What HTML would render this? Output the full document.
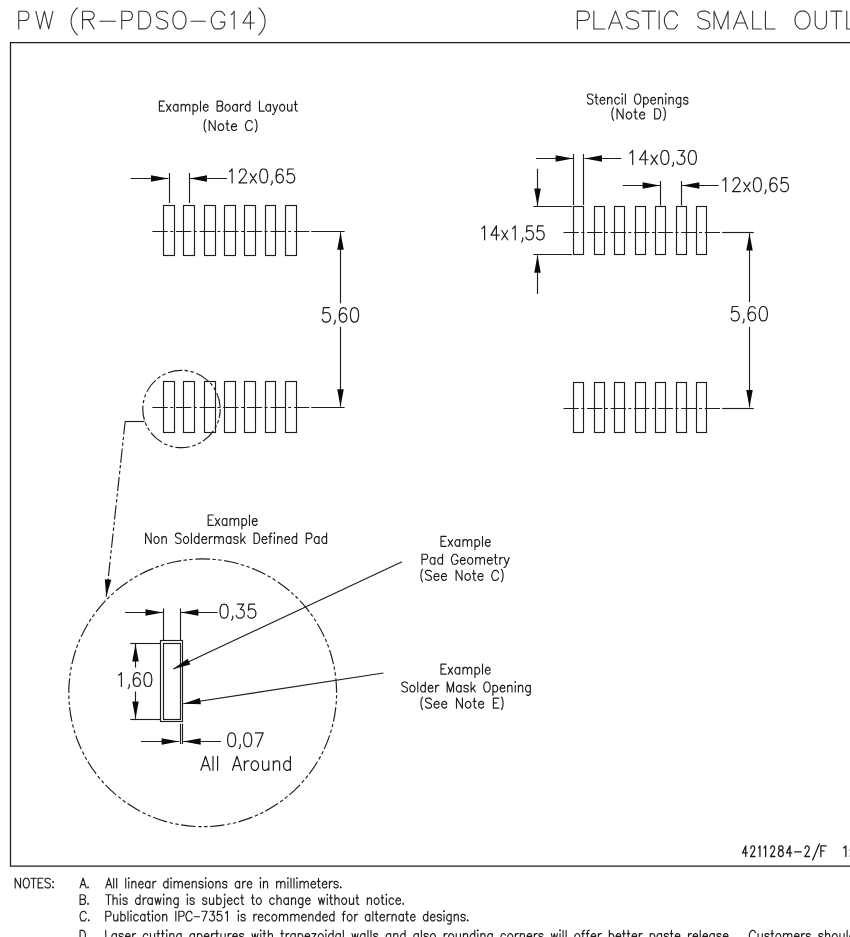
<!DOCTYPE html>
<html><head><meta charset="utf-8"><style>
html,body{margin:0;padding:0;background:#fff;width:850px;height:937px;overflow:hidden;font-family:"Liberation Sans", sans-serif}
svg{display:block}
</style></head><body>
<svg width="850" height="937" viewBox="0 0 850 937">
<rect width="850" height="937" fill="#fff"/>
<path d="M18.75 11.20L18.75 28.90M18.75 11.20L25.24 11.20L27.41 12.04L28.13 12.89L28.85 14.57L28.85 17.10L28.13 18.79L27.41 19.63L25.24 20.47L18.75 20.47M35.85 11.20L40.12 28.90M44.40 11.20L40.12 28.90M44.40 11.20L48.67 28.90M52.95 11.20L48.67 28.90M77.45 7.83L75.65 9.51L73.85 12.04L72.05 15.41L71.15 19.63L71.15 23.00L72.05 27.21L73.85 30.59L75.65 33.11L77.45 34.80M82.55 11.20L82.55 28.90M82.55 11.20L90.01 11.20L92.49 12.04L93.32 12.89L94.15 14.57L94.15 16.26L93.32 17.94L92.49 18.79L90.01 19.63L82.55 19.63M88.35 19.63L94.15 28.90M99.95 21.31L115.35 21.31M121.75 11.20L121.75 28.90M121.75 11.20L128.56 11.20L130.84 12.04L131.59 12.89L132.35 14.57L132.35 17.10L131.59 18.79L130.84 19.63L128.56 20.47L121.75 20.47M138.75 11.20L138.75 28.90M138.75 11.20L144.70 11.20L147.25 12.04L148.95 13.73L149.80 15.41L150.65 17.94L150.65 22.16L149.80 24.69L148.95 26.37L147.25 28.06L144.70 28.90L138.75 28.90M167.65 13.73L166.05 12.04L163.65 11.20L160.45 11.20L158.05 12.04L156.45 13.73L156.45 15.41L157.25 17.10L158.05 17.94L159.65 18.79L164.45 20.47L166.05 21.31L166.85 22.16L167.65 23.84L167.65 26.37L166.05 28.06L163.65 28.90L160.45 28.90L158.05 28.06L156.45 26.37M177.82 11.20L176.20 12.04L174.57 13.73L173.76 15.41L172.95 17.94L172.95 22.16L173.76 24.69L174.57 26.37L176.20 28.06L177.82 28.90L181.07 28.90L182.70 28.06L184.32 26.37L185.14 24.69L185.95 22.16L185.95 17.94L185.14 15.41L184.32 13.73L182.70 12.04L181.07 11.20L177.82 11.20M191.15 21.31L205.35 21.31M224.75 15.41L223.91 13.73L222.24 12.04L220.56 11.20L217.21 11.20L215.54 12.04L213.86 13.73L212.19 16.26L211.35 17.94L211.35 22.16L212.19 24.69L213.03 26.37L213.86 28.06L215.54 28.90L217.21 28.90L220.56 28.90L222.24 28.06L223.91 26.37L224.75 24.69L224.75 22.16M220.56 22.16L224.75 22.16M231.15 14.57L232.35 13.73L234.15 11.20L234.15 28.90M250.42 11.20L242.95 23.00L254.15 23.00M250.42 11.20L250.42 28.90M258.75 7.83L260.55 9.51L262.35 12.04L264.15 15.41L265.05 19.63L265.05 23.00L264.15 27.21L262.35 30.59L260.55 33.11L258.75 34.80" fill="none" stroke="#333" stroke-width="1.1" stroke-linecap="round" stroke-linejoin="round"/>
<path d="M577.35 11.10L577.35 29.00M577.35 11.10L585.00 11.10L587.55 11.95L588.40 12.80L589.25 14.51L589.25 17.07L588.40 18.77L587.55 19.62L585.00 20.48L577.35 20.48M593.85 11.10L593.85 29.00M593.85 29.00L604.75 29.00M615.50 11.10L608.65 29.00M615.50 11.10L622.35 29.00M611.22 23.03L619.78 23.03M638.65 13.66L636.89 11.95L634.26 11.10L630.74 11.10L628.11 11.95L626.35 13.66L626.35 15.36L627.23 17.07L628.11 17.92L629.86 18.77L635.14 20.48L636.89 21.33L637.77 22.18L638.65 23.89L638.65 26.44L636.89 28.15L634.26 29.00L630.74 29.00L628.11 28.15L626.35 26.44M648.70 11.10L648.70 29.00M641.85 11.10L655.55 11.10M659.15 11.10L659.15 29.00M677.45 15.36L676.64 13.66L675.01 11.95L673.39 11.10L670.14 11.10L668.51 11.95L666.89 13.66L665.26 16.21L664.45 17.92L664.45 22.18L665.26 24.74L666.08 26.44L666.89 28.15L668.51 29.00L670.14 29.00L673.39 29.00L675.01 28.15L676.64 26.44L677.45 24.74M709.75 13.66L708.04 11.95L705.46 11.10L702.04 11.10L699.46 11.95L697.75 13.66L697.75 15.36L698.61 17.07L699.46 17.92L701.18 18.77L706.32 20.48L708.04 21.33L708.89 22.18L709.75 23.89L709.75 26.44L708.04 28.15L705.46 29.00L702.04 29.00L699.46 28.15L697.75 26.44M714.05 11.10L714.05 29.00M714.05 11.10L721.05 29.00M728.05 11.10L721.05 29.00M728.05 11.10L728.05 29.00M740.65 11.10L733.45 29.00M740.65 11.10L747.85 29.00M736.15 23.03L745.15 23.03M752.65 11.10L752.65 29.00M752.65 29.00L761.35 29.00M765.45 11.10L765.45 29.00M765.45 29.00L775.05 29.00M800.64 11.10L798.77 11.95L796.91 13.66L795.98 15.36L795.05 17.92L795.05 22.18L795.98 24.74L796.91 26.44L798.77 28.15L800.64 29.00L804.36 29.00L806.23 28.15L808.09 26.44L809.02 24.74L809.95 22.18L809.95 17.92L809.02 15.36L808.09 13.66L806.23 11.95L804.36 11.10L800.64 11.10M815.15 11.10L815.15 23.89L815.96 26.44L817.57 28.15L819.99 29.00L821.61 29.00L824.03 28.15L825.64 26.44L826.45 23.89L826.45 11.10M836.35 11.10L836.35 29.00M830.75 11.10L841.95 11.10M846.75 11.10L846.75 29.00M846.75 29.00L855.45 29.00" fill="none" stroke="#333" stroke-width="1.1" stroke-linecap="round" stroke-linejoin="round"/>
<path d="M 860 42.5 H 10.5 V 866 H 860" fill="none" stroke="#1e1e1e" stroke-width="1.25"/>
<path d="M159.38 101.10L159.38 111.10M159.38 101.10L164.52 101.10M159.38 105.86L162.54 105.86M159.38 111.10L164.52 111.10M166.50 104.43L170.85 111.10M170.85 104.43L166.50 111.10M177.97 104.43L177.97 111.10M177.97 105.86L177.18 104.91L176.38 104.43L175.20 104.43L174.41 104.91L173.62 105.86L173.22 107.29L173.22 108.24L173.62 109.67L174.41 110.62L175.20 111.10L176.38 111.10L177.18 110.62L177.97 109.67M181.13 104.43L181.13 111.10M181.13 106.34L182.32 104.91L183.11 104.43L184.30 104.43L185.09 104.91L185.48 106.34L185.48 111.10M185.48 106.34L186.67 104.91L187.46 104.43L188.65 104.43L189.44 104.91L189.83 106.34L189.83 111.10M193.00 104.43L193.00 114.43M193.00 105.86L193.79 104.91L194.58 104.43L195.77 104.43L196.56 104.91L197.35 105.86L197.74 107.29L197.74 108.24L197.35 109.67L196.56 110.62L195.77 111.10L194.58 111.10L193.79 110.62L193.00 109.67M200.51 101.10L200.51 111.10M203.28 107.29L208.03 107.29L208.03 106.34L207.63 105.39L207.24 104.91L206.45 104.43L205.26 104.43L204.47 104.91L203.68 105.86L203.28 107.29L203.28 108.24L203.68 109.67L204.47 110.62L205.26 111.10L206.45 111.10L207.24 110.62L208.03 109.67M217.13 101.10L217.13 111.10M217.13 101.10L220.69 101.10L221.87 101.58L222.27 102.05L222.66 103.00L222.66 103.96L222.27 104.91L221.87 105.39L220.69 105.86M217.13 105.86L220.69 105.86L221.87 106.34L222.27 106.81L222.66 107.77L222.66 109.20L222.27 110.15L221.87 110.62L220.69 111.10L217.13 111.10M227.02 104.43L226.22 104.91L225.43 105.86L225.04 107.29L225.04 108.24L225.43 109.67L226.22 110.62L227.02 111.10L228.20 111.10L228.99 110.62L229.78 109.67L230.18 108.24L230.18 107.29L229.78 105.86L228.99 104.91L228.20 104.43L227.02 104.43M237.30 104.43L237.30 111.10M237.30 105.86L236.51 104.91L235.72 104.43L234.53 104.43L233.74 104.91L232.95 105.86L232.55 107.29L232.55 108.24L232.95 109.67L233.74 110.62L234.53 111.10L235.72 111.10L236.51 110.62L237.30 109.67M240.46 104.43L240.46 111.10M240.46 107.29L240.86 105.86L241.65 104.91L242.44 104.43L243.63 104.43M249.96 101.10L249.96 111.10M249.96 105.86L249.17 104.91L248.38 104.43L247.19 104.43L246.40 104.91L245.61 105.86L245.21 107.29L245.21 108.24L245.61 109.67L246.40 110.62L247.19 111.10L248.38 111.10L249.17 110.62L249.96 109.67M259.45 101.10L259.45 111.10M259.45 111.10L264.20 111.10M270.53 104.43L270.53 111.10M270.53 105.86L269.74 104.91L268.94 104.43L267.76 104.43L266.97 104.91L266.18 105.86L265.78 107.29L265.78 108.24L266.18 109.67L266.97 110.62L267.76 111.10L268.94 111.10L269.74 110.62L270.53 109.67M272.90 104.43L275.27 111.10M277.65 104.43L275.27 111.10L274.48 113.00L273.69 113.96L272.90 114.43L272.50 114.43M281.60 104.43L280.81 104.91L280.02 105.86L279.62 107.29L279.62 108.24L280.02 109.67L280.81 110.62L281.60 111.10L282.79 111.10L283.58 110.62L284.37 109.67L284.77 108.24L284.77 107.29L284.37 105.86L283.58 104.91L282.79 104.43L281.60 104.43M287.54 104.43L287.54 109.20L287.93 110.62L288.72 111.10L289.91 111.10L290.70 110.62L291.89 109.20M291.89 104.43L291.89 111.10M295.45 101.10L295.45 109.20L295.84 110.62L296.63 111.10L297.43 111.10M294.26 104.43L297.03 104.43" fill="none" stroke="#1e1e1e" stroke-width="1.15" stroke-linecap="round" stroke-linejoin="round"/>
<path d="M205.78 119.55L205.01 120.74L204.42 122.64L204.07 125.74L204.42 128.83L205.01 130.74L205.78 131.93M209.20 120.50L209.20 130.50M209.20 120.50L215.18 130.50M215.18 120.50L215.18 130.50M220.30 123.83L219.45 124.31L218.59 125.26L218.17 126.69L218.17 127.64L218.59 129.07L219.45 130.02L220.30 130.50L221.58 130.50L222.44 130.02L223.29 129.07L223.72 127.64L223.72 126.69L223.29 125.26L222.44 124.31L221.58 123.83L220.30 123.83M227.13 120.50L227.13 128.60L227.56 130.02L228.41 130.50L229.27 130.50M225.85 123.83L228.84 123.83M231.40 126.69L236.53 126.69L236.53 125.74L236.10 124.79L235.67 124.31L234.82 123.83L233.54 123.83L232.69 124.31L231.83 125.26L231.40 126.69L231.40 127.64L231.83 129.07L232.69 130.02L233.54 130.50L234.82 130.50L235.67 130.02L236.53 129.07M252.33 122.88L251.90 121.93L251.05 120.98L250.19 120.50L248.48 120.50L247.63 120.98L246.78 121.93L245.92 123.36L245.50 124.31L245.50 126.69L245.92 128.12L246.35 129.07L246.78 130.02L247.63 130.50L248.48 130.50L250.19 130.50L251.05 130.02L251.90 129.07L252.33 128.12M255.32 119.55L256.09 120.74L256.68 122.64L257.03 125.74L256.68 128.83L256.09 130.74L255.32 131.93" fill="none" stroke="#1e1e1e" stroke-width="1.15" stroke-linecap="round" stroke-linejoin="round"/>
<rect x="163.5" y="205.5" width="11.00" height="50.00" fill="none" stroke="#1e1e1e" stroke-width="1.15"/>
<rect x="183.5" y="205.5" width="11.00" height="50.00" fill="none" stroke="#1e1e1e" stroke-width="1.15"/>
<rect x="204.5" y="205.5" width="11.00" height="50.00" fill="none" stroke="#1e1e1e" stroke-width="1.15"/>
<rect x="224.5" y="205.5" width="11.00" height="50.00" fill="none" stroke="#1e1e1e" stroke-width="1.15"/>
<rect x="244.5" y="205.5" width="11.00" height="50.00" fill="none" stroke="#1e1e1e" stroke-width="1.15"/>
<rect x="265.5" y="205.5" width="10.00" height="50.00" fill="none" stroke="#1e1e1e" stroke-width="1.15"/>
<rect x="285.5" y="205.5" width="11.00" height="50.00" fill="none" stroke="#1e1e1e" stroke-width="1.15"/>
<line x1="152.4" y1="231.5" x2="309.4" y2="231.5" stroke="#1e1e1e" stroke-width="1.15" stroke-dasharray="15.3 2.5 3 2.8" stroke-dashoffset="0"/>
<line x1="311.2" y1="231.5" x2="344.6" y2="231.5" stroke="#1e1e1e" stroke-width="1.15"/>
<rect x="163.5" y="381.5" width="11.00" height="51.00" fill="none" stroke="#1e1e1e" stroke-width="1.15"/>
<rect x="183.5" y="381.5" width="11.00" height="51.00" fill="none" stroke="#1e1e1e" stroke-width="1.15"/>
<rect x="204.5" y="381.5" width="11.00" height="51.00" fill="none" stroke="#1e1e1e" stroke-width="1.15"/>
<rect x="224.5" y="381.5" width="11.00" height="51.00" fill="none" stroke="#1e1e1e" stroke-width="1.15"/>
<rect x="244.5" y="381.5" width="11.00" height="51.00" fill="none" stroke="#1e1e1e" stroke-width="1.15"/>
<rect x="265.5" y="381.5" width="10.00" height="51.00" fill="none" stroke="#1e1e1e" stroke-width="1.15"/>
<rect x="285.5" y="381.5" width="11.00" height="51.00" fill="none" stroke="#1e1e1e" stroke-width="1.15"/>
<line x1="152.4" y1="407.5" x2="309.4" y2="407.5" stroke="#1e1e1e" stroke-width="1.15" stroke-dasharray="15.3 2.5 3 2.8" stroke-dashoffset="0"/>
<line x1="311.2" y1="407.5" x2="344.6" y2="407.5" stroke="#1e1e1e" stroke-width="1.15"/>
<line x1="169.5" y1="173" x2="169.5" y2="203" stroke="#1e1e1e" stroke-width="1.15"/>
<line x1="189.5" y1="173" x2="189.5" y2="203" stroke="#1e1e1e" stroke-width="1.15"/>
<line x1="130.6" y1="178.5" x2="168.4" y2="178.5" stroke="#1e1e1e" stroke-width="1.15"/>
<polygon points="168.40,178.50 151.00,181.75 151.00,175.25" fill="#0a0a0a"/>
<line x1="227" y1="178.5" x2="189.6" y2="178.5" stroke="#1e1e1e" stroke-width="1.15"/>
<polygon points="189.60,178.50 207.00,175.25 207.00,181.75" fill="#0a0a0a"/>
<path d="M229.30 171.65L230.43 170.99L232.12 169.00L232.12 182.90M239.45 172.31L239.45 171.65L240.01 170.32L240.58 169.66L241.70 169.00L243.96 169.00L245.09 169.66L245.65 170.32L246.21 171.65L246.21 172.97L245.65 174.30L244.52 176.28L238.88 182.90L246.78 182.90M250.16 173.63L256.36 182.90M256.36 173.63L250.16 182.90M263.13 169.00L261.44 169.66L260.31 171.65L259.74 174.96L259.74 176.94L260.31 180.25L261.44 182.24L263.13 182.90L264.26 182.90L265.95 182.24L267.07 180.25L267.64 176.94L267.64 174.96L267.07 171.65L265.95 169.66L264.26 169.00L263.13 169.00M272.15 180.91L272.15 182.90L271.58 184.22L271.02 184.89M282.86 170.99L282.30 169.66L280.61 169.00L279.48 169.00L277.79 169.66L276.66 171.65L276.09 174.96L276.09 178.27L276.66 180.91L277.79 182.24L279.48 182.90L280.04 182.90L281.73 182.24L282.86 180.91L283.42 178.93L283.42 178.27L282.86 176.28L281.73 174.96L280.04 174.30L279.48 174.30L277.79 174.96L276.66 176.28L276.09 178.27M293.57 169.00L287.93 169.00L287.37 174.96L287.93 174.30L289.63 173.63L291.32 173.63L293.01 174.30L294.14 175.62L294.70 177.60L294.70 178.93L294.14 180.91L293.01 182.24L291.32 182.90L289.63 182.90L287.93 182.24L287.37 181.58L286.81 180.25" fill="none" stroke="#1e1e1e" stroke-width="1.2" stroke-linecap="round" stroke-linejoin="round"/>
<line x1="340.5" y1="303.3" x2="340.5" y2="232.4" stroke="#1e1e1e" stroke-width="1.15"/>
<polygon points="340.50,232.40 343.75,249.80 337.25,249.80" fill="#0a0a0a"/>
<line x1="340.5" y1="326.8" x2="340.5" y2="406.6" stroke="#1e1e1e" stroke-width="1.15"/>
<polygon points="340.50,406.60 337.25,389.20 343.75,389.20" fill="#0a0a0a"/>
<path d="M329.33 307.70L323.47 307.70L322.89 313.87L323.47 313.19L325.23 312.50L326.98 312.50L328.74 313.19L329.91 314.56L330.50 316.61L330.50 317.99L329.91 320.04L328.74 321.41L326.98 322.10L325.23 322.10L323.47 321.41L322.89 320.73L322.30 319.36M335.18 320.04L335.18 322.10L334.60 323.47L334.01 324.16M346.30 309.76L345.72 308.39L343.96 307.70L342.79 307.70L341.04 308.39L339.86 310.44L339.28 313.87L339.28 317.30L339.86 320.04L341.04 321.41L342.79 322.10L343.38 322.10L345.13 321.41L346.30 320.04L346.89 317.99L346.89 317.30L346.30 315.24L345.13 313.87L343.38 313.19L342.79 313.19L341.04 313.87L339.86 315.24L339.28 317.30M353.92 307.70L352.16 308.39L350.99 310.44L350.40 313.87L350.40 315.93L350.99 319.36L352.16 321.41L353.92 322.10L355.09 322.10L356.84 321.41L358.01 319.36L358.60 315.93L358.60 313.87L358.01 310.44L356.84 308.39L355.09 307.70L353.92 307.70" fill="none" stroke="#1e1e1e" stroke-width="1.2" stroke-linecap="round" stroke-linejoin="round"/>
<circle cx="181.5" cy="409" r="38.7" fill="none" stroke="#1e1e1e" stroke-width="1.15" stroke-dasharray="14.65 2.33 3.43 2.43 3.43 2.73" stroke-dashoffset="5.7"/>
<line x1="144.6" y1="421.5" x2="125.2" y2="421.5" stroke="#1e1e1e" stroke-width="1.15"/>
<line x1="125.2" y1="421.2" x2="106.2" y2="596.8" stroke="#1e1e1e" stroke-width="1.15" stroke-dasharray="14.3 2.3 3.4 2.4 3.4 2.7" stroke-dashoffset="1"/>
<polygon points="106.20,596.80 104.84,579.15 111.30,579.85" fill="#0a0a0a"/>
<path d="M592.92 95.44L592.13 94.48L590.94 94.00L589.35 94.00L588.17 94.48L587.38 95.44L587.38 96.40L587.77 97.37L588.17 97.85L588.96 98.33L591.33 99.29L592.13 99.77L592.52 100.25L592.92 101.21L592.92 102.66L592.13 103.62L590.94 104.10L589.35 104.10L588.17 103.62L587.38 102.66M596.08 94.00L596.08 102.18L596.48 103.62L597.27 104.10L598.06 104.10M594.90 97.37L597.67 97.37M600.04 100.25L604.79 100.25L604.79 99.29L604.40 98.33L604.00 97.85L603.21 97.37L602.02 97.37L601.23 97.85L600.44 98.81L600.04 100.25L600.04 101.21L600.44 102.66L601.23 103.62L602.02 104.10L603.21 104.10L604.00 103.62L604.79 102.66M607.56 97.37L607.56 104.10M607.56 99.29L608.75 97.85L609.54 97.37L610.73 97.37L611.52 97.85L611.92 99.29L611.92 104.10M619.44 98.81L618.65 97.85L617.86 97.37L616.67 97.37L615.88 97.85L615.09 98.81L614.69 100.25L614.69 101.21L615.09 102.66L615.88 103.62L616.67 104.10L617.86 104.10L618.65 103.62L619.44 102.66M621.82 94.00L622.21 94.48L622.61 94.00L622.21 93.52L621.82 94.00M622.21 97.37L622.21 104.10M625.38 94.00L625.38 104.10M636.86 94.00L636.07 94.48L635.27 95.44L634.88 96.40L634.48 97.85L634.48 100.25L634.88 101.70L635.27 102.66L636.07 103.62L636.86 104.10L638.44 104.10L639.23 103.62L640.03 102.66L640.42 101.70L640.82 100.25L640.82 97.85L640.42 96.40L640.03 95.44L639.23 94.48L638.44 94.00L636.86 94.00M643.59 97.37L643.59 107.47M643.59 98.81L644.38 97.85L645.17 97.37L646.36 97.37L647.15 97.85L647.94 98.81L648.34 100.25L648.34 101.21L647.94 102.66L647.15 103.62L646.36 104.10L645.17 104.10L644.38 103.62L643.59 102.66M650.71 100.25L655.46 100.25L655.46 99.29L655.07 98.33L654.67 97.85L653.88 97.37L652.69 97.37L651.90 97.85L651.11 98.81L650.71 100.25L650.71 101.21L651.11 102.66L651.90 103.62L652.69 104.10L653.88 104.10L654.67 103.62L655.46 102.66M658.24 97.37L658.24 104.10M658.24 99.29L659.42 97.85L660.21 97.37L661.40 97.37L662.19 97.85L662.59 99.29L662.59 104.10M665.36 94.00L665.76 94.48L666.15 94.00L665.76 93.52L665.36 94.00M665.76 97.37L665.76 104.10M668.92 97.37L668.92 104.10M668.92 99.29L670.11 97.85L670.90 97.37L672.09 97.37L672.88 97.85L673.28 99.29L673.28 104.10M680.80 97.37L680.80 105.06L680.40 106.50L680.01 106.99L679.22 107.47L678.03 107.47L677.24 106.99M680.80 98.81L680.01 97.85L679.22 97.37L678.03 97.37L677.24 97.85L676.44 98.81L676.05 100.25L676.05 101.21L676.44 102.66L677.24 103.62L678.03 104.10L679.22 104.10L680.01 103.62L680.80 102.66M687.92 98.81L687.53 97.85L686.34 97.37L685.15 97.37L683.97 97.85L683.57 98.81L683.97 99.77L684.76 100.25L686.74 100.73L687.53 101.21L687.92 102.18L687.92 102.66L687.53 103.62L686.34 104.10L685.15 104.10L683.97 103.62L683.57 102.66" fill="none" stroke="#1e1e1e" stroke-width="1.15" stroke-linecap="round" stroke-linejoin="round"/>
<path d="M613.60 107.73L612.83 108.94L612.22 110.89L611.88 114.04L612.22 117.20L612.83 119.14L613.60 120.36M617.06 108.70L617.06 118.90M617.06 108.70L623.10 118.90M623.10 108.70L623.10 118.90M628.29 112.10L627.42 112.59L626.56 113.56L626.13 115.01L626.13 115.99L626.56 117.44L627.42 118.41L628.29 118.90L629.58 118.90L630.44 118.41L631.31 117.44L631.74 115.99L631.74 115.01L631.31 113.56L630.44 112.59L629.58 112.10L628.29 112.10M635.20 108.70L635.20 116.96L635.63 118.41L636.49 118.90L637.35 118.90M633.90 112.10L636.92 112.10M639.51 115.01L644.70 115.01L644.70 114.04L644.26 113.07L643.83 112.59L642.97 112.10L641.67 112.10L640.81 112.59L639.95 113.56L639.51 115.01L639.51 115.99L639.95 117.44L640.81 118.41L641.67 118.90L642.97 118.90L643.83 118.41L644.70 117.44M654.63 108.70L654.63 118.90M654.63 108.70L657.65 108.70L658.95 109.19L659.81 110.16L660.24 111.13L660.67 112.59L660.67 115.01L660.24 116.47L659.81 117.44L658.95 118.41L657.65 118.90L654.63 118.90M663.70 107.73L664.47 108.94L665.08 110.89L665.42 114.04L665.08 117.20L664.47 119.14L663.70 120.36" fill="none" stroke="#1e1e1e" stroke-width="1.15" stroke-linecap="round" stroke-linejoin="round"/>
<rect x="573.5" y="206.5" width="10.00" height="48.00" fill="none" stroke="#1e1e1e" stroke-width="1.15"/>
<rect x="594.5" y="206.5" width="10.00" height="48.00" fill="none" stroke="#1e1e1e" stroke-width="1.15"/>
<rect x="614.5" y="206.5" width="10.00" height="48.00" fill="none" stroke="#1e1e1e" stroke-width="1.15"/>
<rect x="635.5" y="206.5" width="10.00" height="48.00" fill="none" stroke="#1e1e1e" stroke-width="1.15"/>
<rect x="655.5" y="206.5" width="10.00" height="48.00" fill="none" stroke="#1e1e1e" stroke-width="1.15"/>
<rect x="676.5" y="206.5" width="10.00" height="48.00" fill="none" stroke="#1e1e1e" stroke-width="1.15"/>
<rect x="696.5" y="206.5" width="10.00" height="48.00" fill="none" stroke="#1e1e1e" stroke-width="1.15"/>
<line x1="563.5" y1="232.5" x2="720.6" y2="232.5" stroke="#1e1e1e" stroke-width="1.15" stroke-dasharray="15.3 2.5 3 2.75" stroke-dashoffset="0"/>
<line x1="722.1" y1="232.5" x2="753.8" y2="232.5" stroke="#1e1e1e" stroke-width="1.15"/>
<rect x="573.5" y="382.5" width="10.00" height="50.00" fill="none" stroke="#1e1e1e" stroke-width="1.15"/>
<rect x="594.5" y="382.5" width="10.00" height="50.00" fill="none" stroke="#1e1e1e" stroke-width="1.15"/>
<rect x="614.5" y="382.5" width="10.00" height="50.00" fill="none" stroke="#1e1e1e" stroke-width="1.15"/>
<rect x="635.5" y="382.5" width="10.00" height="50.00" fill="none" stroke="#1e1e1e" stroke-width="1.15"/>
<rect x="655.5" y="382.5" width="10.00" height="50.00" fill="none" stroke="#1e1e1e" stroke-width="1.15"/>
<rect x="676.5" y="382.5" width="10.00" height="50.00" fill="none" stroke="#1e1e1e" stroke-width="1.15"/>
<rect x="696.5" y="382.5" width="10.00" height="50.00" fill="none" stroke="#1e1e1e" stroke-width="1.15"/>
<line x1="563.5" y1="408.5" x2="720.6" y2="408.5" stroke="#1e1e1e" stroke-width="1.15" stroke-dasharray="15.3 2.5 3 2.75" stroke-dashoffset="0"/>
<line x1="722.1" y1="408.5" x2="753.8" y2="408.5" stroke="#1e1e1e" stroke-width="1.15"/>
<line x1="573.5" y1="154" x2="573.5" y2="205" stroke="#1e1e1e" stroke-width="1.15"/>
<line x1="583.5" y1="154" x2="583.5" y2="205" stroke="#1e1e1e" stroke-width="1.15"/>
<line x1="536" y1="158.5" x2="573" y2="158.5" stroke="#1e1e1e" stroke-width="1.15"/>
<polygon points="573.00,158.50 555.60,161.75 555.60,155.25" fill="#0a0a0a"/>
<line x1="621.4" y1="158.5" x2="584.6" y2="158.5" stroke="#1e1e1e" stroke-width="1.15"/>
<polygon points="584.60,158.50 602.00,155.25 602.00,161.75" fill="#0a0a0a"/>
<path d="M629.80 153.15L630.95 152.49L632.67 150.50L632.67 164.40M645.30 150.50L639.56 159.77L648.17 159.77M645.30 150.50L645.30 164.40M651.04 155.13L657.36 164.40M657.36 155.13L651.04 164.40M664.25 150.50L662.53 151.16L661.38 153.15L660.80 156.46L660.80 158.44L661.38 161.75L662.53 163.74L664.25 164.40L665.40 164.40L667.12 163.74L668.27 161.75L668.84 158.44L668.84 156.46L668.27 153.15L667.12 151.16L665.40 150.50L664.25 150.50M673.43 162.41L673.43 164.40L672.86 165.72L672.29 166.39M678.03 150.50L684.34 150.50L680.90 155.80L682.62 155.80L683.77 156.46L684.34 157.12L684.92 159.10L684.92 160.43L684.34 162.41L683.19 163.74L681.47 164.40L679.75 164.40L678.03 163.74L677.45 163.08L676.88 161.75M691.81 150.50L690.08 151.16L688.94 153.15L688.36 156.46L688.36 158.44L688.94 161.75L690.08 163.74L691.81 164.40L692.96 164.40L694.68 163.74L695.83 161.75L696.40 158.44L696.40 156.46L695.83 153.15L694.68 151.16L692.96 150.50L691.81 150.50" fill="none" stroke="#1e1e1e" stroke-width="1.2" stroke-linecap="round" stroke-linejoin="round"/>
<line x1="660.5" y1="181" x2="660.5" y2="205.5" stroke="#1e1e1e" stroke-width="1.15"/>
<line x1="681.5" y1="181" x2="681.5" y2="205.5" stroke="#1e1e1e" stroke-width="1.15"/>
<line x1="622.7" y1="185.5" x2="660" y2="185.5" stroke="#1e1e1e" stroke-width="1.15"/>
<polygon points="660.00,185.50 642.60,188.75 642.60,182.25" fill="#0a0a0a"/>
<line x1="718.5" y1="185.5" x2="682" y2="185.5" stroke="#1e1e1e" stroke-width="1.15"/>
<polygon points="682.00,185.50 699.40,182.25 699.40,188.75" fill="#0a0a0a"/>
<path d="M722.90 180.35L724.03 179.69L725.73 177.70L725.73 191.60M733.08 181.01L733.08 180.35L733.64 179.02L734.21 178.36L735.34 177.70L737.60 177.70L738.73 178.36L739.30 179.02L739.87 180.35L739.87 181.67L739.30 183.00L738.17 184.98L732.51 191.60L740.43 191.60M743.82 182.33L750.04 191.60M750.04 182.33L743.82 191.60M756.83 177.70L755.13 178.36L754.00 180.35L753.44 183.66L753.44 185.64L754.00 188.95L755.13 190.94L756.83 191.60L757.96 191.60L759.66 190.94L760.79 188.95L761.36 185.64L761.36 183.66L760.79 180.35L759.66 178.36L757.96 177.70L756.83 177.70M765.88 189.61L765.88 191.60L765.31 192.92L764.75 193.59M776.62 179.69L776.06 178.36L774.36 177.70L773.23 177.70L771.53 178.36L770.40 180.35L769.84 183.66L769.84 186.97L770.40 189.61L771.53 190.94L773.23 191.60L773.80 191.60L775.49 190.94L776.62 189.61L777.19 187.63L777.19 186.97L776.62 184.98L775.49 183.66L773.80 183.00L773.23 183.00L771.53 183.66L770.40 184.98L769.84 186.97M787.37 177.70L781.71 177.70L781.15 183.66L781.71 183.00L783.41 182.33L785.11 182.33L786.80 183.00L787.93 184.32L788.50 186.30L788.50 187.63L787.93 189.61L786.80 190.94L785.11 191.60L783.41 191.60L781.71 190.94L781.15 190.28L780.58 188.95" fill="none" stroke="#1e1e1e" stroke-width="1.2" stroke-linecap="round" stroke-linejoin="round"/>
<line x1="533.2" y1="206.5" x2="572" y2="206.5" stroke="#1e1e1e" stroke-width="1.15"/>
<line x1="533.2" y1="254.5" x2="572" y2="254.5" stroke="#1e1e1e" stroke-width="1.15"/>
<line x1="537.5" y1="168.8" x2="537.5" y2="205.9" stroke="#1e1e1e" stroke-width="1.15"/>
<polygon points="537.50,205.90 534.25,188.50 540.75,188.50" fill="#0a0a0a"/>
<line x1="537.5" y1="293.9" x2="537.5" y2="255.3" stroke="#1e1e1e" stroke-width="1.15"/>
<polygon points="537.50,255.30 540.75,272.70 534.25,272.70" fill="#0a0a0a"/>
<path d="M481.90 228.55L482.97 227.89L484.59 225.90L484.59 239.80M496.40 225.90L491.03 235.17L499.09 235.17M496.40 225.90L496.40 239.80M501.77 230.53L507.68 239.80M507.68 230.53L501.77 239.80M512.51 228.55L513.59 227.89L515.20 225.90L515.20 239.80M522.72 237.81L522.72 239.80L522.18 241.12L521.64 241.79M532.38 225.90L527.01 225.90L526.48 231.86L527.01 231.20L528.62 230.53L530.24 230.53L531.85 231.20L532.92 232.52L533.46 234.50L533.46 235.83L532.92 237.81L531.85 239.14L530.24 239.80L528.62 239.80L527.01 239.14L526.48 238.48L525.94 237.15M543.13 225.90L537.76 225.90L537.22 231.86L537.76 231.20L539.37 230.53L540.98 230.53L542.59 231.20L543.66 232.52L544.20 234.50L544.20 235.83L543.66 237.81L542.59 239.14L540.98 239.80L539.37 239.80L537.76 239.14L537.22 238.48L536.68 237.15" fill="none" stroke="#1e1e1e" stroke-width="1.2" stroke-linecap="round" stroke-linejoin="round"/>
<line x1="749.5" y1="302" x2="749.5" y2="233.2" stroke="#1e1e1e" stroke-width="1.15"/>
<polygon points="749.50,233.20 752.75,250.60 746.25,250.60" fill="#0a0a0a"/>
<line x1="749.5" y1="326.8" x2="749.5" y2="407.3" stroke="#1e1e1e" stroke-width="1.15"/>
<polygon points="749.50,407.30 746.25,389.90 752.75,389.90" fill="#0a0a0a"/>
<path d="M738.13 306.50L732.27 306.50L731.69 312.67L732.27 311.99L734.03 311.30L735.78 311.30L737.54 311.99L738.71 313.36L739.30 315.41L739.30 316.79L738.71 318.84L737.54 320.21L735.78 320.90L734.03 320.90L732.27 320.21L731.69 319.53L731.10 318.16M743.98 318.84L743.98 320.90L743.40 322.27L742.81 322.96M755.10 308.56L754.52 307.19L752.76 306.50L751.59 306.50L749.84 307.19L748.66 309.24L748.08 312.67L748.08 316.10L748.66 318.84L749.84 320.21L751.59 320.90L752.18 320.90L753.93 320.21L755.10 318.84L755.69 316.79L755.69 316.10L755.10 314.04L753.93 312.67L752.18 311.99L751.59 311.99L749.84 312.67L748.66 314.04L748.08 316.10M762.72 306.50L760.96 307.19L759.79 309.24L759.20 312.67L759.20 314.73L759.79 318.16L760.96 320.21L762.72 320.90L763.89 320.90L765.64 320.21L766.81 318.16L767.40 314.73L767.40 312.67L766.81 309.24L765.64 307.19L763.89 306.50L762.72 306.50" fill="none" stroke="#1e1e1e" stroke-width="1.2" stroke-linecap="round" stroke-linejoin="round"/>
<path d="M208.17 515.00L208.17 525.40M208.17 515.00L213.34 515.00M208.17 519.95L211.35 519.95M208.17 525.40L213.34 525.40M215.32 518.47L219.69 525.40M219.69 518.47L215.32 525.40M226.84 518.47L226.84 525.40M226.84 519.95L226.05 518.96L225.25 518.47L224.06 518.47L223.27 518.96L222.47 519.95L222.08 521.44L222.08 522.43L222.47 523.91L223.27 524.90L224.06 525.40L225.25 525.40L226.05 524.90L226.84 523.91M230.02 518.47L230.02 525.40M230.02 520.45L231.21 518.96L232.00 518.47L233.20 518.47L233.99 518.96L234.39 520.45L234.39 525.40M234.39 520.45L235.58 518.96L236.37 518.47L237.56 518.47L238.36 518.96L238.76 520.45L238.76 525.40M241.93 518.47L241.93 528.87M241.93 519.95L242.73 518.96L243.52 518.47L244.71 518.47L245.51 518.96L246.30 519.95L246.70 521.44L246.70 522.43L246.30 523.91L245.51 524.90L244.71 525.40L243.52 525.40L242.73 524.90L241.93 523.91M249.48 515.00L249.48 525.40M252.26 521.44L257.03 521.44L257.03 520.45L256.63 519.46L256.23 518.96L255.44 518.47L254.24 518.47L253.45 518.96L252.66 519.95L252.26 521.44L252.26 522.43L252.66 523.91L253.45 524.90L254.24 525.40L255.44 525.40L256.23 524.90L257.03 523.91" fill="none" stroke="#1e1e1e" stroke-width="1.15" stroke-linecap="round" stroke-linejoin="round"/>
<path d="M145.57 533.10L145.57 543.50M145.57 533.10L151.16 543.50M151.16 533.10L151.16 543.50M155.94 536.57L155.15 537.06L154.35 538.05L153.95 539.54L153.95 540.53L154.35 542.01L155.15 543.00L155.94 543.50L157.14 543.50L157.94 543.00L158.74 542.01L159.13 540.53L159.13 539.54L158.74 538.05L157.94 537.06L157.14 536.57L155.94 536.57M161.93 536.57L161.93 543.50M161.93 538.55L163.12 537.06L163.92 536.57L165.12 536.57L165.91 537.06L166.31 538.55L166.31 543.50M181.07 534.59L180.27 533.60L179.07 533.10L177.48 533.10L176.28 533.60L175.48 534.59L175.48 535.58L175.88 536.57L176.28 537.06L177.08 537.56L179.47 538.55L180.27 539.04L180.67 539.54L181.07 540.53L181.07 542.01L180.27 543.00L179.07 543.50L177.48 543.50L176.28 543.00L175.48 542.01M185.45 536.57L184.66 537.06L183.86 538.05L183.46 539.54L183.46 540.53L183.86 542.01L184.66 543.00L185.45 543.50L186.65 543.50L187.45 543.00L188.25 542.01L188.64 540.53L188.64 539.54L188.25 538.05L187.45 537.06L186.65 536.57L185.45 536.57M191.44 533.10L191.44 543.50M199.01 533.10L199.01 543.50M199.01 538.05L198.22 537.06L197.42 536.57L196.22 536.57L195.42 537.06L194.63 538.05L194.23 539.54L194.23 540.53L194.63 542.01L195.42 543.00L196.22 543.50L197.42 543.50L198.22 543.00L199.01 542.01M201.80 539.54L206.59 539.54L206.59 538.55L206.19 537.56L205.79 537.06L204.99 536.57L203.80 536.57L203.00 537.06L202.20 538.05L201.80 539.54L201.80 540.53L202.20 542.01L203.00 543.00L203.80 543.50L204.99 543.50L205.79 543.00L206.59 542.01M209.38 536.57L209.38 543.50M209.38 539.54L209.78 538.05L210.58 537.06L211.38 536.57L212.57 536.57M214.57 536.57L214.57 543.50M214.57 538.55L215.76 537.06L216.56 536.57L217.76 536.57L218.55 537.06L218.95 538.55L218.95 543.50M218.95 538.55L220.15 537.06L220.95 536.57L222.14 536.57L222.94 537.06L223.34 538.55L223.34 543.50M230.92 536.57L230.92 543.50M230.92 538.05L230.12 537.06L229.32 536.57L228.12 536.57L227.33 537.06L226.53 538.05L226.13 539.54L226.13 540.53L226.53 542.01L227.33 543.00L228.12 543.50L229.32 543.50L230.12 543.00L230.92 542.01M238.09 538.05L237.70 537.06L236.50 536.57L235.30 536.57L234.11 537.06L233.71 538.05L234.11 539.04L234.90 539.54L236.90 540.03L237.70 540.53L238.09 541.52L238.09 542.01L237.70 543.00L236.50 543.50L235.30 543.50L234.11 543.00L233.71 542.01M240.89 533.10L240.89 543.50M244.87 536.57L240.89 541.52M242.48 539.54L245.27 543.50M254.05 533.10L254.05 543.50M254.05 533.10L256.84 533.10L258.03 533.60L258.83 534.59L259.23 535.58L259.63 537.06L259.63 539.54L259.23 541.02L258.83 542.01L258.03 543.00L256.84 543.50L254.05 543.50M262.02 539.54L266.81 539.54L266.81 538.55L266.41 537.56L266.01 537.06L265.21 536.57L264.02 536.57L263.22 537.06L262.42 538.05L262.02 539.54L262.02 540.53L262.42 542.01L263.22 543.00L264.02 543.50L265.21 543.50L266.01 543.00L266.81 542.01M271.99 533.10L271.19 533.10L270.40 533.60L270.00 535.08L270.00 543.50M268.80 536.57L271.59 536.57M273.98 533.10L274.38 533.60L274.78 533.10L274.38 532.60L273.98 533.10M274.38 536.57L274.38 543.50M277.57 536.57L277.57 543.50M277.57 538.55L278.77 537.06L279.57 536.57L280.76 536.57L281.56 537.06L281.96 538.55L281.96 543.50M284.75 539.54L289.54 539.54L289.54 538.55L289.14 537.56L288.74 537.06L287.94 536.57L286.75 536.57L285.95 537.06L285.15 538.05L284.75 539.54L284.75 540.53L285.15 542.01L285.95 543.00L286.75 543.50L287.94 543.50L288.74 543.00L289.54 542.01M296.72 533.10L296.72 543.50M296.72 538.05L295.92 537.06L295.12 536.57L293.92 536.57L293.13 537.06L292.33 538.05L291.93 539.54L291.93 540.53L292.33 542.01L293.13 543.00L293.92 543.50L295.12 543.50L295.92 543.00L296.72 542.01M306.29 533.10L306.29 543.50M306.29 533.10L309.88 533.10L311.07 533.60L311.47 534.09L311.87 535.08L311.87 536.57L311.47 537.56L311.07 538.05L309.88 538.55L306.29 538.55M319.05 536.57L319.05 543.50M319.05 538.05L318.25 537.06L317.45 536.57L316.26 536.57L315.46 537.06L314.66 538.05L314.26 539.54L314.26 540.53L314.66 542.01L315.46 543.00L316.26 543.50L317.45 543.50L318.25 543.00L319.05 542.01M326.62 533.10L326.62 543.50M326.62 538.05L325.83 537.06L325.03 536.57L323.83 536.57L323.04 537.06L322.24 538.05L321.84 539.54L321.84 540.53L322.24 542.01L323.04 543.00L323.83 543.50L325.03 543.50L325.83 543.00L326.62 542.01" fill="none" stroke="#1e1e1e" stroke-width="1.15" stroke-linecap="round" stroke-linejoin="round"/>
<circle cx="202.7" cy="692.8" r="133.9" fill="none" stroke="#1e1e1e" stroke-width="1.15" stroke-dasharray="14.65 2.33 3.43 2.43 3.43 2.73" stroke-dashoffset="14.6"/>
<rect x="160.5" y="640.5" width="22.00" height="81.00" fill="none" stroke="#1e1e1e" stroke-width="1.15"/>
<rect x="163.5" y="643.5" width="17.00" height="76.00" fill="none" stroke="#1e1e1e" stroke-width="1.15"/>
<line x1="163.5" y1="608.5" x2="163.5" y2="640" stroke="#1e1e1e" stroke-width="1.15"/>
<line x1="180.5" y1="608.5" x2="180.5" y2="640" stroke="#1e1e1e" stroke-width="1.15"/>
<line x1="125" y1="612.5" x2="162.9" y2="612.5" stroke="#1e1e1e" stroke-width="1.15"/>
<polygon points="162.90,612.50 145.50,615.75 145.50,609.25" fill="#0a0a0a"/>
<line x1="217.6" y1="612.5" x2="181" y2="612.5" stroke="#1e1e1e" stroke-width="1.15"/>
<polygon points="181.00,612.50 198.40,609.25 198.40,615.75" fill="#0a0a0a"/>
<path d="M223.47 604.20L221.74 604.86L220.58 606.85L220.00 610.16L220.00 612.14L220.58 615.45L221.74 617.44L223.47 618.10L224.63 618.10L226.37 617.44L227.53 615.45L228.11 612.14L228.11 610.16L227.53 606.85L226.37 604.86L224.63 604.20L223.47 604.20M232.74 616.11L232.74 618.10L232.16 619.42L231.58 620.09M237.37 604.20L243.74 604.20L240.27 609.50L242.00 609.50L243.16 610.16L243.74 610.82L244.32 612.80L244.32 614.13L243.74 616.11L242.58 617.44L240.85 618.10L239.11 618.10L237.37 617.44L236.79 616.78L236.21 615.45M254.74 604.20L248.95 604.20L248.37 610.16L248.95 609.50L250.69 608.83L252.43 608.83L254.16 609.50L255.32 610.82L255.90 612.80L255.90 614.13L255.32 616.11L254.16 617.44L252.43 618.10L250.69 618.10L248.95 617.44L248.37 616.78L247.79 615.45" fill="none" stroke="#1e1e1e" stroke-width="1.2" stroke-linecap="round" stroke-linejoin="round"/>
<line x1="130.3" y1="643.5" x2="160" y2="643.5" stroke="#1e1e1e" stroke-width="1.15"/>
<line x1="130.3" y1="719.5" x2="160" y2="719.5" stroke="#1e1e1e" stroke-width="1.15"/>
<line x1="135.5" y1="667.6" x2="135.5" y2="644" stroke="#1e1e1e" stroke-width="1.15"/>
<polygon points="135.50,644.00 138.75,661.40 132.25,661.40" fill="#0a0a0a"/>
<line x1="135.5" y1="691.5" x2="135.5" y2="718.8" stroke="#1e1e1e" stroke-width="1.15"/>
<polygon points="135.50,718.80 132.25,701.40 138.75,701.40" fill="#0a0a0a"/>
<path d="M118.60 675.25L119.73 674.59L121.41 672.60L121.41 686.50M129.29 684.51L129.29 686.50L128.73 687.82L128.17 688.49M139.98 674.59L139.42 673.26L137.73 672.60L136.61 672.60L134.92 673.26L133.79 675.25L133.23 678.56L133.23 681.87L133.79 684.51L134.92 685.84L136.61 686.50L137.17 686.50L138.86 685.84L139.98 684.51L140.55 682.53L140.55 681.87L139.98 679.88L138.86 678.56L137.17 677.90L136.61 677.90L134.92 678.56L133.79 679.88L133.23 681.87M147.30 672.60L145.61 673.26L144.48 675.25L143.92 678.56L143.92 680.54L144.48 683.85L145.61 685.84L147.30 686.50L148.42 686.50L150.11 685.84L151.24 683.85L151.80 680.54L151.80 678.56L151.24 675.25L150.11 673.26L148.42 672.60L147.30 672.60" fill="none" stroke="#1e1e1e" stroke-width="1.2" stroke-linecap="round" stroke-linejoin="round"/>
<line x1="402" y1="561.8" x2="173.2" y2="669" stroke="#1e1e1e" stroke-width="1.15"/>
<polygon points="173.20,669.00 187.58,658.67 190.34,664.56" fill="#0a0a0a"/>
<line x1="383.4" y1="673" x2="183.2" y2="703.8" stroke="#1e1e1e" stroke-width="1.15"/>
<polygon points="183.20,703.80 199.90,697.94 200.89,704.37" fill="#0a0a0a"/>
<line x1="180.5" y1="723.8" x2="180.5" y2="744" stroke="#1e1e1e" stroke-width="1.15"/>
<line x1="182.5" y1="723.8" x2="182.5" y2="744" stroke="#1e1e1e" stroke-width="1.15"/>
<line x1="141" y1="741.5" x2="179" y2="741.5" stroke="#1e1e1e" stroke-width="1.15"/>
<polygon points="179.00,741.50 161.60,744.75 161.60,738.25" fill="#0a0a0a"/>
<line x1="221" y1="741.5" x2="183.3" y2="741.5" stroke="#1e1e1e" stroke-width="1.15"/>
<polygon points="183.30,741.50 200.70,738.25 200.70,744.75" fill="#0a0a0a"/>
<path d="M231.05 732.80L229.32 733.46L228.17 735.45L227.60 738.76L227.60 740.74L228.17 744.05L229.32 746.04L231.05 746.70L232.19 746.70L233.92 746.04L235.06 744.05L235.64 740.74L235.64 738.76L235.06 735.45L233.92 733.46L232.19 732.80L231.05 732.80M240.23 744.71L240.23 746.70L239.66 748.02L239.08 748.69M247.12 732.80L245.40 733.46L244.25 735.45L243.68 738.76L243.68 740.74L244.25 744.05L245.40 746.04L247.12 746.70L248.27 746.70L249.99 746.04L251.14 744.05L251.72 740.74L251.72 738.76L251.14 735.45L249.99 733.46L248.27 732.80L247.12 732.80M263.20 732.80L257.46 746.70M255.16 732.80L263.20 732.80" fill="none" stroke="#1e1e1e" stroke-width="1.2" stroke-linecap="round" stroke-linejoin="round"/>
<path d="M205.51 756.30L200.90 770.30M205.51 756.30L210.11 770.30M202.63 765.63L208.39 765.63M212.99 756.30L212.99 770.30M217.60 756.30L217.60 770.30" fill="none" stroke="#1e1e1e" stroke-width="1.2" stroke-linecap="round" stroke-linejoin="round"/>
<path d="M236.95 756.30L232.40 770.30M236.95 756.30L241.50 770.30M234.11 765.63L239.79 765.63M244.34 760.97L244.34 770.30M244.34 764.97L244.91 762.97L246.05 761.63L247.18 760.97L248.89 760.97M254.01 760.97L252.87 761.63L251.73 762.97L251.16 764.97L251.16 766.30L251.73 768.30L252.87 769.63L254.01 770.30L255.71 770.30L256.85 769.63L257.99 768.30L258.56 766.30L258.56 764.97L257.99 762.97L256.85 761.63L255.71 760.97L254.01 760.97M262.54 760.97L262.54 767.63L263.11 769.63L264.24 770.30L265.95 770.30L267.09 769.63L268.79 767.63M268.79 760.97L268.79 770.30M273.34 760.97L273.34 770.30M273.34 763.63L275.05 761.63L276.18 760.97L277.89 760.97L279.03 761.63L279.60 763.63L279.60 770.30M290.40 756.30L290.40 770.30M290.40 762.97L289.26 761.63L288.13 760.97L286.42 760.97L285.28 761.63L284.15 762.97L283.58 764.97L283.58 766.30L284.15 768.30L285.28 769.63L286.42 770.30L288.13 770.30L289.26 769.63L290.40 768.30" fill="none" stroke="#1e1e1e" stroke-width="1.2" stroke-linecap="round" stroke-linejoin="round"/>
<path d="M440.97 536.30L440.97 546.30M440.97 536.30L446.17 536.30M440.97 541.06L444.17 541.06M440.97 546.30L446.17 546.30M448.17 539.63L452.56 546.30M452.56 539.63L448.17 546.30M459.76 539.63L459.76 546.30M459.76 541.06L458.96 540.11L458.16 539.63L456.96 539.63L456.16 540.11L455.36 541.06L454.96 542.49L454.96 543.44L455.36 544.87L456.16 545.82L456.96 546.30L458.16 546.30L458.96 545.82L459.76 544.87M462.95 539.63L462.95 546.30M462.95 541.54L464.15 540.11L464.95 539.63L466.15 539.63L466.95 540.11L467.35 541.54L467.35 546.30M467.35 541.54L468.55 540.11L469.35 539.63L470.54 539.63L471.34 540.11L471.74 541.54L471.74 546.30M474.94 539.63L474.94 549.63M474.94 541.06L475.74 540.11L476.54 539.63L477.74 539.63L478.54 540.11L479.34 541.06L479.74 542.49L479.74 543.44L479.34 544.87L478.54 545.82L477.74 546.30L476.54 546.30L475.74 545.82L474.94 544.87M482.53 536.30L482.53 546.30M485.33 542.49L490.12 542.49L490.12 541.54L489.73 540.59L489.33 540.11L488.53 539.63L487.33 539.63L486.53 540.11L485.73 541.06L485.33 542.49L485.33 543.44L485.73 544.87L486.53 545.82L487.33 546.30L488.53 546.30L489.33 545.82L490.12 544.87" fill="none" stroke="#1e1e1e" stroke-width="1.15" stroke-linecap="round" stroke-linejoin="round"/>
<path d="M421.97 554.20L421.97 564.20M421.97 554.20L425.61 554.20L426.82 554.68L427.22 555.15L427.62 556.10L427.62 557.53L427.22 558.49L426.82 558.96L425.61 559.44L421.97 559.44M434.89 557.53L434.89 564.20M434.89 558.96L434.08 558.01L433.27 557.53L432.06 557.53L431.25 558.01L430.45 558.96L430.04 560.39L430.04 561.34L430.45 562.77L431.25 563.72L432.06 564.20L433.27 564.20L434.08 563.72L434.89 562.77M442.55 554.20L442.55 564.20M442.55 558.96L441.75 558.01L440.94 557.53L439.73 557.53L438.92 558.01L438.11 558.96L437.71 560.39L437.71 561.34L438.11 562.77L438.92 563.72L439.73 564.20L440.94 564.20L441.75 563.72L442.55 562.77M457.88 556.58L457.48 555.63L456.67 554.68L455.87 554.20L454.25 554.20L453.45 554.68L452.64 555.63L451.83 557.06L451.43 558.01L451.43 560.39L451.83 561.82L452.24 562.77L452.64 563.72L453.45 564.20L454.25 564.20L455.87 564.20L456.67 563.72L457.48 562.77L457.88 561.82L457.88 560.39M455.87 560.39L457.88 560.39M460.30 560.39L465.15 560.39L465.15 559.44L464.74 558.49L464.34 558.01L463.53 557.53L462.32 557.53L461.52 558.01L460.71 558.96L460.30 560.39L460.30 561.34L460.71 562.77L461.52 563.72L462.32 564.20L463.53 564.20L464.34 563.72L465.15 562.77M469.58 557.53L468.78 558.01L467.97 558.96L467.57 560.39L467.57 561.34L467.97 562.77L468.78 563.72L469.58 564.20L470.80 564.20L471.60 563.72L472.41 562.77L472.81 561.34L472.81 560.39L472.41 558.96L471.60 558.01L470.80 557.53L469.58 557.53M475.64 557.53L475.64 564.20M475.64 559.44L476.85 558.01L477.65 557.53L478.86 557.53L479.67 558.01L480.07 559.44L480.07 564.20M480.07 559.44L481.29 558.01L482.09 557.53L483.30 557.53L484.11 558.01L484.51 559.44L484.51 564.20M487.34 560.39L492.18 560.39L492.18 559.44L491.78 558.49L491.37 558.01L490.57 557.53L489.35 557.53L488.55 558.01L487.74 558.96L487.34 560.39L487.34 561.34L487.74 562.77L488.55 563.72L489.35 564.20L490.57 564.20L491.37 563.72L492.18 562.77M495.41 554.20L495.41 562.30L495.81 563.72L496.62 564.20L497.42 564.20M494.20 557.53L497.02 557.53M499.85 557.53L499.85 564.20M499.85 560.39L500.25 558.96L501.06 558.01L501.86 557.53L503.07 557.53M504.28 557.53L506.70 564.20M509.12 557.53L506.70 564.20L505.90 566.10L505.09 567.06L504.28 567.53L503.88 567.53" fill="none" stroke="#1e1e1e" stroke-width="1.15" stroke-linecap="round" stroke-linejoin="round"/>
<path d="M422.55 569.35L421.80 570.54L421.21 572.44L420.88 575.54L421.21 578.63L421.80 580.54L422.55 581.73M431.37 571.73L430.53 570.78L429.27 570.30L427.59 570.30L426.33 570.78L425.49 571.73L425.49 572.68L425.91 573.63L426.33 574.11L427.17 574.59L429.69 575.54L430.53 576.01L430.95 576.49L431.37 577.44L431.37 578.87L430.53 579.82L429.27 580.30L427.59 580.30L426.33 579.82L425.49 578.87M433.88 576.49L438.92 576.49L438.92 575.54L438.50 574.59L438.08 574.11L437.24 573.63L435.98 573.63L435.14 574.11L434.30 575.06L433.88 576.49L433.88 577.44L434.30 578.87L435.14 579.82L435.98 580.30L437.24 580.30L438.08 579.82L438.92 578.87M441.44 576.49L446.47 576.49L446.47 575.54L446.05 574.59L445.63 574.11L444.79 573.63L443.54 573.63L442.70 574.11L441.86 575.06L441.44 576.49L441.44 577.44L441.86 578.87L442.70 579.82L443.54 580.30L444.79 580.30L445.63 579.82L446.47 578.87M456.12 570.30L456.12 580.30M456.12 570.30L462.00 580.30M462.00 570.30L462.00 580.30M467.04 573.63L466.20 574.11L465.36 575.06L464.94 576.49L464.94 577.44L465.36 578.87L466.20 579.82L467.04 580.30L468.29 580.30L469.13 579.82L469.97 578.87L470.39 577.44L470.39 576.49L469.97 575.06L469.13 574.11L468.29 573.63L467.04 573.63M473.75 570.30L473.75 578.40L474.17 579.82L475.01 580.30L475.85 580.30M472.49 573.63L475.43 573.63M477.95 576.49L482.98 576.49L482.98 575.54L482.56 574.59L482.14 574.11L481.30 573.63L480.04 573.63L479.21 574.11L478.37 575.06L477.95 576.49L477.95 577.44L478.37 578.87L479.21 579.82L480.04 580.30L481.30 580.30L482.14 579.82L482.98 578.87M498.51 572.68L498.09 571.73L497.25 570.78L496.41 570.30L494.73 570.30L493.89 570.78L493.05 571.73L492.21 573.16L491.79 574.11L491.79 576.49L492.21 577.92L492.63 578.87L493.05 579.82L493.89 580.30L494.73 580.30L496.41 580.30L497.25 579.82L498.09 578.87L498.51 577.92M501.45 569.35L502.20 570.54L502.79 572.44L503.12 575.54L502.79 578.63L502.20 580.54L501.45 581.73" fill="none" stroke="#1e1e1e" stroke-width="1.15" stroke-linecap="round" stroke-linejoin="round"/>
<path d="M440.97 664.10L440.97 674.10M440.97 664.10L446.17 664.10M440.97 668.86L444.17 668.86M440.97 674.10L446.17 674.10M448.17 667.43L452.56 674.10M452.56 667.43L448.17 674.10M459.76 667.43L459.76 674.10M459.76 668.86L458.96 667.91L458.16 667.43L456.96 667.43L456.16 667.91L455.36 668.86L454.96 670.29L454.96 671.24L455.36 672.67L456.16 673.62L456.96 674.10L458.16 674.10L458.96 673.62L459.76 672.67M462.95 667.43L462.95 674.10M462.95 669.34L464.15 667.91L464.95 667.43L466.15 667.43L466.95 667.91L467.35 669.34L467.35 674.10M467.35 669.34L468.55 667.91L469.35 667.43L470.54 667.43L471.34 667.91L471.74 669.34L471.74 674.10M474.94 667.43L474.94 677.43M474.94 668.86L475.74 667.91L476.54 667.43L477.74 667.43L478.54 667.91L479.34 668.86L479.74 670.29L479.74 671.24L479.34 672.67L478.54 673.62L477.74 674.10L476.54 674.10L475.74 673.62L474.94 672.67M482.53 664.10L482.53 674.10M485.33 670.29L490.12 670.29L490.12 669.34L489.73 668.39L489.33 667.91L488.53 667.43L487.33 667.43L486.53 667.91L485.73 668.86L485.33 670.29L485.33 671.24L485.73 672.67L486.53 673.62L487.33 674.10L488.53 674.10L489.33 673.62L490.12 672.67" fill="none" stroke="#1e1e1e" stroke-width="1.15" stroke-linecap="round" stroke-linejoin="round"/>
<path d="M407.44 683.43L406.65 682.48L405.45 682.00L403.86 682.00L402.67 682.48L401.88 683.43L401.88 684.38L402.27 685.33L402.67 685.81L403.47 686.29L405.85 687.24L406.65 687.71L407.04 688.19L407.44 689.14L407.44 690.57L406.65 691.52L405.45 692.00L403.86 692.00L402.67 691.52L401.88 690.57M411.82 685.33L411.02 685.81L410.23 686.76L409.83 688.19L409.83 689.14L410.23 690.57L411.02 691.52L411.82 692.00L413.01 692.00L413.81 691.52L414.60 690.57L415.00 689.14L415.00 688.19L414.60 686.76L413.81 685.81L413.01 685.33L411.82 685.33M417.78 682.00L417.78 692.00M425.34 682.00L425.34 692.00M425.34 686.76L424.54 685.81L423.75 685.33L422.55 685.33L421.76 685.81L420.96 686.76L420.57 688.19L420.57 689.14L420.96 690.57L421.76 691.52L422.55 692.00L423.75 692.00L424.54 691.52L425.34 690.57M428.12 688.19L432.89 688.19L432.89 687.24L432.50 686.29L432.10 685.81L431.30 685.33L430.11 685.33L429.31 685.81L428.52 686.76L428.12 688.19L428.12 689.14L428.52 690.57L429.31 691.52L430.11 692.00L431.30 692.00L432.10 691.52L432.89 690.57M435.68 685.33L435.68 692.00M435.68 688.19L436.08 686.76L436.87 685.81L437.67 685.33L438.86 685.33M447.21 682.00L447.21 692.00M447.21 682.00L450.39 692.00M453.57 682.00L450.39 692.00M453.57 682.00L453.57 692.00M461.13 685.33L461.13 692.00M461.13 686.76L460.33 685.81L459.54 685.33L458.35 685.33L457.55 685.81L456.75 686.76L456.36 688.19L456.36 689.14L456.75 690.57L457.55 691.52L458.35 692.00L459.54 692.00L460.33 691.52L461.13 690.57M468.29 686.76L467.89 685.81L466.70 685.33L465.50 685.33L464.31 685.81L463.91 686.76L464.31 687.71L465.11 688.19L467.09 688.67L467.89 689.14L468.29 690.10L468.29 690.57L467.89 691.52L466.70 692.00L465.50 692.00L464.31 691.52L463.91 690.57M471.07 682.00L471.07 692.00M475.05 685.33L471.07 690.10M472.66 688.19L475.45 692.00M486.18 682.00L485.39 682.48L484.59 683.43L484.19 684.38L483.80 685.81L483.80 688.19L484.19 689.62L484.59 690.57L485.39 691.52L486.18 692.00L487.77 692.00L488.57 691.52L489.36 690.57L489.76 689.62L490.16 688.19L490.16 685.81L489.76 684.38L489.36 683.43L488.57 682.48L487.77 682.00L486.18 682.00M492.94 685.33L492.94 695.33M492.94 686.76L493.74 685.81L494.53 685.33L495.73 685.33L496.52 685.81L497.32 686.76L497.72 688.19L497.72 689.14L497.32 690.57L496.52 691.52L495.73 692.00L494.53 692.00L493.74 691.52L492.94 690.57M500.10 688.19L504.87 688.19L504.87 687.24L504.48 686.29L504.08 685.81L503.28 685.33L502.09 685.33L501.29 685.81L500.50 686.76L500.10 688.19L500.10 689.14L500.50 690.57L501.29 691.52L502.09 692.00L503.28 692.00L504.08 691.52L504.87 690.57M507.66 685.33L507.66 692.00M507.66 687.24L508.85 685.81L509.65 685.33L510.84 685.33L511.63 685.81L512.03 687.24L512.03 692.00M514.82 682.00L515.21 682.48L515.61 682.00L515.21 681.52L514.82 682.00M515.21 685.33L515.21 692.00M518.39 685.33L518.39 692.00M518.39 687.24L519.59 685.81L520.38 685.33L521.58 685.33L522.37 685.81L522.77 687.24L522.77 692.00M530.32 685.33L530.32 692.95L529.93 694.38L529.53 694.86L528.73 695.33L527.54 695.33L526.75 694.86M530.32 686.76L529.53 685.81L528.73 685.33L527.54 685.33L526.75 685.81L525.95 686.76L525.55 688.19L525.55 689.14L525.95 690.57L526.75 691.52L527.54 692.00L528.73 692.00L529.53 691.52L530.32 690.57" fill="none" stroke="#1e1e1e" stroke-width="1.15" stroke-linecap="round" stroke-linejoin="round"/>
<path d="M422.57 697.15L421.81 698.34L421.21 700.24L420.88 703.34L421.21 706.43L421.81 708.34L422.57 709.53M431.47 699.53L430.63 698.58L429.35 698.10L427.66 698.10L426.39 698.58L425.54 699.53L425.54 700.48L425.96 701.43L426.39 701.91L427.23 702.39L429.78 703.34L430.63 703.81L431.05 704.29L431.47 705.24L431.47 706.67L430.63 707.62L429.35 708.10L427.66 708.10L426.39 707.62L425.54 706.67M434.02 704.29L439.11 704.29L439.11 703.34L438.68 702.39L438.26 701.91L437.41 701.43L436.14 701.43L435.29 701.91L434.44 702.86L434.02 704.29L434.02 705.24L434.44 706.67L435.29 707.62L436.14 708.10L437.41 708.10L438.26 707.62L439.11 706.67M441.65 704.29L446.74 704.29L446.74 703.34L446.31 702.39L445.89 701.91L445.04 701.43L443.77 701.43L442.92 701.91L442.07 702.86L441.65 704.29L441.65 705.24L442.07 706.67L442.92 707.62L443.77 708.10L445.04 708.10L445.89 707.62L446.74 706.67M456.49 698.10L456.49 708.10M456.49 698.10L462.42 708.10M462.42 698.10L462.42 708.10M467.51 701.43L466.66 701.91L465.82 702.86L465.39 704.29L465.39 705.24L465.82 706.67L466.66 707.62L467.51 708.10L468.78 708.10L469.63 707.62L470.48 706.67L470.90 705.24L470.90 704.29L470.48 702.86L469.63 701.91L468.78 701.43L467.51 701.43M474.30 698.10L474.30 706.20L474.72 707.62L475.57 708.10L476.41 708.10M473.02 701.43L475.99 701.43M478.53 704.29L483.62 704.29L483.62 703.34L483.20 702.39L482.77 701.91L481.93 701.43L480.65 701.43L479.81 701.91L478.96 702.86L478.53 704.29L478.53 705.24L478.96 706.67L479.81 707.62L480.65 708.10L481.93 708.10L482.77 707.62L483.62 706.67M493.37 698.10L493.37 708.10M493.37 698.10L498.89 698.10M493.37 702.86L496.77 702.86M493.37 708.10L498.89 708.10M501.43 697.15L502.19 698.34L502.79 700.24L503.12 703.34L502.79 706.43L502.19 708.34L501.43 709.53" fill="none" stroke="#1e1e1e" stroke-width="1.15" stroke-linecap="round" stroke-linejoin="round"/>
<path d="M745.75 845.90L742.55 852.97L747.35 852.97M745.75 845.90L745.75 856.50M750.86 848.42L750.86 847.92L751.18 846.91L751.49 846.40L752.12 845.90L753.38 845.90L754.01 846.40L754.32 846.91L754.64 847.92L754.64 848.93L754.32 849.94L753.69 851.45L750.55 856.50L754.95 856.50M758.55 847.92L759.11 847.41L759.95 845.90L759.95 856.50M763.95 847.92L764.63 847.41L765.65 845.90L765.65 856.50M770.76 848.42L770.76 847.92L771.08 846.91L771.39 846.40L772.02 845.90L773.28 845.90L773.91 846.40L774.22 846.91L774.54 847.92L774.54 848.93L774.22 849.94L773.59 851.45L770.45 856.50L774.85 856.50M780.16 845.90L779.14 846.40L778.79 847.41L778.79 848.42L779.14 849.43L779.82 849.94L781.19 850.44L782.22 850.95L782.91 851.96L783.25 852.97L783.25 854.48L782.91 855.49L782.56 856.00L781.54 856.50L780.16 856.50L779.14 856.00L778.79 855.49L778.45 854.48L778.45 852.97L778.79 851.96L779.48 850.95L780.51 850.44L781.88 849.94L782.56 849.43L782.91 848.42L782.91 847.41L782.56 846.40L781.54 845.90L780.16 845.90M789.98 845.90L786.45 852.97L791.75 852.97M789.98 845.90L789.98 856.50M794.65 851.96L801.35 851.96M805.09 848.42L805.09 847.92L805.42 846.91L805.76 846.40L806.43 845.90L807.77 845.90L808.44 846.40L808.78 846.91L809.11 847.92L809.11 848.93L808.78 849.94L808.11 851.45L804.75 856.50L809.45 856.50M819.35 843.88L812.65 860.03M820.85 845.90L820.85 856.50M820.85 845.90L826.15 845.90M820.85 850.95L824.11 850.95M843.65 847.92L844.53 847.41L845.85 845.90L845.85 856.50M850.65 849.43L850.15 849.94L850.65 850.44L851.15 849.94L850.65 849.43M850.65 855.49L850.15 856.00L850.65 856.50L851.15 856.00L850.65 855.49" fill="none" stroke="#1e1e1e" stroke-width="1.3" stroke-linecap="round" stroke-linejoin="round"/>
<path d="M15.17 878.20L15.17 887.90M15.17 878.20L20.53 887.90M20.53 878.20L20.53 887.90M25.50 878.20L24.74 878.66L23.97 879.59L23.59 880.51L23.21 881.90L23.21 884.20L23.59 885.59L23.97 886.51L24.74 887.44L25.50 887.90L27.03 887.90L27.80 887.44L28.56 886.51L28.95 885.59L29.33 884.20L29.33 881.90L28.95 880.51L28.56 879.59L27.80 878.66L27.03 878.20L25.50 878.20M33.53 878.20L33.53 887.90M30.86 878.20L36.21 878.20M38.12 878.20L38.12 887.90M38.12 878.20L43.10 878.20M38.12 882.82L41.19 882.82M38.12 887.90L43.10 887.90M50.36 879.59L49.60 878.66L48.45 878.20L46.92 878.20L45.78 878.66L45.01 879.59L45.01 880.51L45.39 881.43L45.78 881.90L46.54 882.36L48.83 883.28L49.60 883.74L49.98 884.20L50.36 885.13L50.36 886.51L49.60 887.44L48.45 887.90L46.92 887.90L45.78 887.44L45.01 886.51M53.04 881.43L52.66 881.90L53.04 882.36L53.42 881.90L53.04 881.43M53.04 886.98L52.66 887.44L53.04 887.90L53.42 887.44L53.04 886.98" fill="none" stroke="#1e1e1e" stroke-width="1.15" stroke-linecap="round" stroke-linejoin="round"/>
<path d="M108.79 878.20L105.78 887.90M108.79 878.20L111.81 887.90M106.91 884.67L110.68 884.67M113.70 878.20L113.70 887.90M116.71 878.20L116.71 887.90M125.76 878.20L125.76 887.90M128.40 878.20L128.78 878.66L129.16 878.20L128.78 877.74L128.40 878.20M128.78 881.43L128.78 887.90M131.80 881.43L131.80 887.90M131.80 883.28L132.93 881.90L133.69 881.43L134.82 881.43L135.57 881.90L135.95 883.28L135.95 887.90M138.59 884.20L143.11 884.20L143.11 883.28L142.74 882.36L142.36 881.90L141.61 881.43L140.47 881.43L139.72 881.90L138.97 882.82L138.59 884.20L138.59 885.13L138.97 886.51L139.72 887.44L140.47 887.90L141.61 887.90L142.36 887.44L143.11 886.51M149.90 881.43L149.90 887.90M149.90 882.82L149.15 881.90L148.39 881.43L147.26 881.43L146.51 881.90L145.75 882.82L145.38 884.20L145.38 885.13L145.75 886.51L146.51 887.44L147.26 887.90L148.39 887.90L149.15 887.44L149.90 886.51M152.92 881.43L152.92 887.90M152.92 884.20L153.30 882.82L154.05 881.90L154.81 881.43L155.94 881.43M168.01 878.20L168.01 887.90M168.01 882.82L167.25 881.90L166.50 881.43L165.37 881.43L164.61 881.90L163.86 882.82L163.48 884.20L163.48 885.13L163.86 886.51L164.61 887.44L165.37 887.90L166.50 887.90L167.25 887.44L168.01 886.51M170.65 878.20L171.02 878.66L171.40 878.20L171.02 877.74L170.65 878.20M171.02 881.43L171.02 887.90M174.04 881.43L174.04 887.90M174.04 883.28L175.17 881.90L175.93 881.43L177.06 881.43L177.81 881.90L178.19 883.28L178.19 887.90M178.19 883.28L179.32 881.90L180.08 881.43L181.21 881.43L181.96 881.90L182.34 883.28L182.34 887.90M184.98 884.20L189.51 884.20L189.51 883.28L189.13 882.36L188.75 881.90L188.00 881.43L186.87 881.43L186.11 881.90L185.36 882.82L184.98 884.20L184.98 885.13L185.36 886.51L186.11 887.44L186.87 887.90L188.00 887.90L188.75 887.44L189.51 886.51M192.15 881.43L192.15 887.90M192.15 883.28L193.28 881.90L194.03 881.43L195.16 881.43L195.92 881.90L196.29 883.28L196.29 887.90M203.08 882.82L202.71 881.90L201.57 881.43L200.44 881.43L199.31 881.90L198.93 882.82L199.31 883.74L200.07 884.20L201.95 884.67L202.71 885.13L203.08 886.05L203.08 886.51L202.71 887.44L201.57 887.90L200.44 887.90L199.31 887.44L198.93 886.51M205.35 878.20L205.72 878.66L206.10 878.20L205.72 877.74L205.35 878.20M205.72 881.43L205.72 887.90M210.25 881.43L209.49 881.90L208.74 882.82L208.36 884.20L208.36 885.13L208.74 886.51L209.49 887.44L210.25 887.90L211.38 887.90L212.14 887.44L212.89 886.51L213.27 885.13L213.27 884.20L212.89 882.82L212.14 881.90L211.38 881.43L210.25 881.43M215.91 881.43L215.91 887.90M215.91 883.28L217.04 881.90L217.79 881.43L218.92 881.43L219.68 881.90L220.06 883.28L220.06 887.90M226.84 882.82L226.47 881.90L225.34 881.43L224.20 881.43L223.07 881.90L222.70 882.82L223.07 883.74L223.83 884.20L225.71 884.67L226.47 885.13L226.84 886.05L226.84 886.51L226.47 887.44L225.34 887.90L224.20 887.90L223.07 887.44L222.70 886.51M239.67 881.43L239.67 887.90M239.67 882.82L238.91 881.90L238.16 881.43L237.03 881.43L236.27 881.90L235.52 882.82L235.14 884.20L235.14 885.13L235.52 886.51L236.27 887.44L237.03 887.90L238.16 887.90L238.91 887.44L239.67 886.51M242.69 881.43L242.69 887.90M242.69 884.20L243.06 882.82L243.82 881.90L244.57 881.43L245.70 881.43M247.21 884.20L251.74 884.20L251.74 883.28L251.36 882.36L250.98 881.90L250.23 881.43L249.10 881.43L248.34 881.90L247.59 882.82L247.21 884.20L247.21 885.13L247.59 886.51L248.34 887.44L249.10 887.90L250.23 887.90L250.98 887.44L251.74 886.51M260.03 878.20L260.41 878.66L260.79 878.20L260.41 877.74L260.03 878.20M260.41 881.43L260.41 887.90M263.43 881.43L263.43 887.90M263.43 883.28L264.56 881.90L265.32 881.43L266.45 881.43L267.20 881.90L267.58 883.28L267.58 887.90M276.63 881.43L276.63 887.90M276.63 883.28L277.76 881.90L278.52 881.43L279.65 881.43L280.40 881.90L280.78 883.28L280.78 887.90M280.78 883.28L281.91 881.90L282.66 881.43L283.80 881.43L284.55 881.90L284.93 883.28L284.93 887.90M287.57 878.20L287.94 878.66L288.32 878.20L287.94 877.74L287.57 878.20M287.94 881.43L287.94 887.90M290.96 878.20L290.96 887.90M293.98 878.20L293.98 887.90M296.62 878.20L297.00 878.66L297.37 878.20L297.00 877.74L296.62 878.20M297.00 881.43L297.00 887.90M300.01 881.43L300.01 887.90M300.01 883.28L301.15 881.90L301.90 881.43L303.03 881.43L303.79 881.90L304.16 883.28L304.16 887.90M304.16 883.28L305.29 881.90L306.05 881.43L307.18 881.43L307.93 881.90L308.31 883.28L308.31 887.90M310.95 884.20L315.48 884.20L315.48 883.28L315.10 882.36L314.72 881.90L313.97 881.43L312.84 881.43L312.08 881.90L311.33 882.82L310.95 884.20L310.95 885.13L311.33 886.51L312.08 887.44L312.84 887.90L313.97 887.90L314.72 887.44L315.48 886.51M318.50 878.20L318.50 886.05L318.87 887.44L319.63 887.90L320.38 887.90M317.36 881.43L320.00 881.43M322.27 884.20L326.79 884.20L326.79 883.28L326.42 882.36L326.04 881.90L325.28 881.43L324.15 881.43L323.40 881.90L322.64 882.82L322.27 884.20L322.27 885.13L322.64 886.51L323.40 887.44L324.15 887.90L325.28 887.90L326.04 887.44L326.79 886.51M329.43 881.43L329.43 887.90M329.43 884.20L329.81 882.82L330.56 881.90L331.32 881.43L332.45 881.43M338.11 882.82L337.73 881.90L336.60 881.43L335.47 881.43L334.34 881.90L333.96 882.82L334.34 883.74L335.09 884.20L336.98 884.67L337.73 885.13L338.11 886.05L338.11 886.51L337.73 887.44L336.60 887.90L335.47 887.90L334.34 887.44L333.96 886.51M340.75 886.98L340.37 887.44L340.75 887.90L341.12 887.44L340.75 886.98" fill="none" stroke="#1e1e1e" stroke-width="1.15" stroke-linecap="round" stroke-linejoin="round"/>
<path d="M108.44 894.70L108.44 904.40M105.78 894.70L111.11 894.70M113.02 894.70L113.02 904.40M113.02 899.78L114.16 898.40L114.92 897.93L116.07 897.93L116.83 898.40L117.21 899.78L117.21 904.40M119.88 894.70L120.26 895.16L120.64 894.70L120.26 894.24L119.88 894.70M120.26 897.93L120.26 904.40M127.12 899.32L126.74 898.40L125.60 897.93L124.46 897.93L123.31 898.40L122.93 899.32L123.31 900.24L124.07 900.70L125.98 901.17L126.74 901.63L127.12 902.55L127.12 903.01L126.74 903.94L125.60 904.40L124.46 904.40L123.31 903.94L122.93 903.01M140.09 894.70L140.09 904.40M140.09 899.32L139.32 898.40L138.56 897.93L137.42 897.93L136.66 898.40L135.89 899.32L135.51 900.70L135.51 901.63L135.89 903.01L136.66 903.94L137.42 904.40L138.56 904.40L139.32 903.94L140.09 903.01M143.14 897.93L143.14 904.40M143.14 900.70L143.52 899.32L144.28 898.40L145.04 897.93L146.19 897.93M152.29 897.93L152.29 904.40M152.29 899.32L151.52 898.40L150.76 897.93L149.62 897.93L148.86 898.40L148.09 899.32L147.71 900.70L147.71 901.63L148.09 903.01L148.86 903.94L149.62 904.40L150.76 904.40L151.52 903.94L152.29 903.01M154.96 897.93L156.48 904.40M158.01 897.93L156.48 904.40M158.01 897.93L159.53 904.40M161.06 897.93L159.53 904.40M163.34 894.70L163.72 895.16L164.11 894.70L163.72 894.24L163.34 894.70M163.72 897.93L163.72 904.40M166.77 897.93L166.77 904.40M166.77 899.78L167.92 898.40L168.68 897.93L169.82 897.93L170.59 898.40L170.97 899.78L170.97 904.40M178.21 897.93L178.21 905.32L177.83 906.71L177.45 907.17L176.69 907.63L175.54 907.63L174.78 907.17M178.21 899.32L177.45 898.40L176.69 897.93L175.54 897.93L174.78 898.40L174.02 899.32L173.64 900.70L173.64 901.63L174.02 903.01L174.78 903.94L175.54 904.40L176.69 904.40L177.45 903.94L178.21 903.01M186.98 894.70L187.36 895.16L187.74 894.70L187.36 894.24L186.98 894.70M187.36 897.93L187.36 904.40M194.22 899.32L193.84 898.40L192.70 897.93L191.55 897.93L190.41 898.40L190.03 899.32L190.41 900.24L191.17 900.70L193.08 901.17L193.84 901.63L194.22 902.55L194.22 903.01L193.84 903.94L192.70 904.40L191.55 904.40L190.41 903.94L190.03 903.01M206.80 899.32L206.42 898.40L205.28 897.93L204.14 897.93L202.99 898.40L202.61 899.32L202.99 900.24L203.75 900.70L205.66 901.17L206.42 901.63L206.80 902.55L206.80 903.01L206.42 903.94L205.28 904.40L204.14 904.40L202.99 903.94L202.61 903.01M209.47 897.93L209.47 902.55L209.85 903.94L210.62 904.40L211.76 904.40L212.52 903.94L213.67 902.55M213.67 897.93L213.67 904.40M216.72 894.70L216.72 904.40M216.72 899.32L217.48 898.40L218.24 897.93L219.39 897.93L220.15 898.40L220.91 899.32L221.29 900.70L221.29 901.63L220.91 903.01L220.15 903.94L219.39 904.40L218.24 904.40L217.48 903.94L216.72 903.01M224.34 894.70L224.72 895.16L225.10 894.70L224.72 894.24L224.34 894.70M224.72 897.93L224.72 905.79L224.34 907.17L223.58 907.63L222.82 907.63M227.39 900.70L231.97 900.70L231.97 899.78L231.58 898.86L231.20 898.40L230.44 897.93L229.30 897.93L228.53 898.40L227.77 899.32L227.39 900.70L227.39 901.63L227.77 903.01L228.53 903.94L229.30 904.40L230.44 904.40L231.20 903.94L231.97 903.01M238.83 899.32L238.07 898.40L237.30 897.93L236.16 897.93L235.40 898.40L234.63 899.32L234.25 900.70L234.25 901.63L234.63 903.01L235.40 903.94L236.16 904.40L237.30 904.40L238.07 903.94L238.83 903.01M241.88 894.70L241.88 902.55L242.26 903.94L243.02 904.40L243.78 904.40M240.73 897.93L243.40 897.93M252.55 894.70L252.55 902.55L252.93 903.94L253.70 904.40L254.46 904.40M251.41 897.93L254.08 897.93M258.27 897.93L257.51 898.40L256.75 899.32L256.37 900.70L256.37 901.63L256.75 903.01L257.51 903.94L258.27 904.40L259.42 904.40L260.18 903.94L260.94 903.01L261.32 901.63L261.32 900.70L260.94 899.32L260.18 898.40L259.42 897.93L258.27 897.93M274.28 899.32L273.52 898.40L272.76 897.93L271.62 897.93L270.85 898.40L270.09 899.32L269.71 900.70L269.71 901.63L270.09 903.01L270.85 903.94L271.62 904.40L272.76 904.40L273.52 903.94L274.28 903.01M276.95 894.70L276.95 904.40M276.95 899.78L278.10 898.40L278.86 897.93L280.00 897.93L280.77 898.40L281.15 899.78L281.15 904.40M288.39 897.93L288.39 904.40M288.39 899.32L287.63 898.40L286.86 897.93L285.72 897.93L284.96 898.40L284.20 899.32L283.82 900.70L283.82 901.63L284.20 903.01L284.96 903.94L285.72 904.40L286.86 904.40L287.63 903.94L288.39 903.01M291.44 897.93L291.44 904.40M291.44 899.78L292.58 898.40L293.35 897.93L294.49 897.93L295.25 898.40L295.63 899.78L295.63 904.40M302.88 897.93L302.88 905.32L302.50 906.71L302.11 907.17L301.35 907.63L300.21 907.63L299.45 907.17M302.88 899.32L302.11 898.40L301.35 897.93L300.21 897.93L299.45 898.40L298.68 899.32L298.30 900.70L298.30 901.63L298.68 903.01L299.45 903.94L300.21 904.40L301.35 904.40L302.11 903.94L302.88 903.01M305.55 900.70L310.12 900.70L310.12 899.78L309.74 898.86L309.36 898.40L308.60 897.93L307.45 897.93L306.69 898.40L305.93 899.32L305.55 900.70L305.55 901.63L305.93 903.01L306.69 903.94L307.45 904.40L308.60 904.40L309.36 903.94L310.12 903.01M318.51 897.93L320.03 904.40M321.56 897.93L320.03 904.40M321.56 897.93L323.08 904.40M324.61 897.93L323.08 904.40M326.90 894.70L327.28 895.16L327.66 894.70L327.28 894.24L326.90 894.70M327.28 897.93L327.28 904.40M330.71 894.70L330.71 902.55L331.09 903.94L331.85 904.40L332.61 904.40M329.56 897.93L332.23 897.93M334.90 894.70L334.90 904.40M334.90 899.78L336.05 898.40L336.81 897.93L337.95 897.93L338.71 898.40L339.10 899.78L339.10 904.40M343.67 897.93L342.91 898.40L342.15 899.32L341.76 900.70L341.76 901.63L342.15 903.01L342.91 903.94L343.67 904.40L344.81 904.40L345.58 903.94L346.34 903.01L346.72 901.63L346.72 900.70L346.34 899.32L345.58 898.40L344.81 897.93L343.67 897.93M349.39 897.93L349.39 902.55L349.77 903.94L350.53 904.40L351.68 904.40L352.44 903.94L353.58 902.55M353.58 897.93L353.58 904.40M357.01 894.70L357.01 902.55L357.39 903.94L358.16 904.40L358.92 904.40M355.87 897.93L358.54 897.93M367.31 897.93L367.31 904.40M367.31 899.78L368.45 898.40L369.21 897.93L370.36 897.93L371.12 898.40L371.50 899.78L371.50 904.40M376.08 897.93L375.31 898.40L374.55 899.32L374.17 900.70L374.17 901.63L374.55 903.01L375.31 903.94L376.08 904.40L377.22 904.40L377.98 903.94L378.74 903.01L379.13 901.63L379.13 900.70L378.74 899.32L377.98 898.40L377.22 897.93L376.08 897.93M382.18 894.70L382.18 902.55L382.56 903.94L383.32 904.40L384.08 904.40M381.03 897.93L383.70 897.93M385.99 894.70L386.37 895.16L386.75 894.70L386.37 894.24L385.99 894.70M386.37 897.93L386.37 904.40M393.61 899.32L392.85 898.40L392.09 897.93L390.94 897.93L390.18 898.40L389.42 899.32L389.04 900.70L389.04 901.63L389.42 903.01L390.18 903.94L390.94 904.40L392.09 904.40L392.85 903.94L393.61 903.01M395.90 900.70L400.48 900.70L400.48 899.78L400.09 898.86L399.71 898.40L398.95 897.93L397.81 897.93L397.04 898.40L396.28 899.32L395.90 900.70L395.90 901.63L396.28 903.01L397.04 903.94L397.81 904.40L398.95 904.40L399.71 903.94L400.48 903.01M403.14 903.48L402.76 903.94L403.14 904.40L403.53 903.94L403.14 903.48" fill="none" stroke="#1e1e1e" stroke-width="1.15" stroke-linecap="round" stroke-linejoin="round"/>
<path d="M105.78 911.20L105.78 920.90M105.78 911.20L109.16 911.20L110.29 911.66L110.67 912.12L111.05 913.05L111.05 914.43L110.67 915.36L110.29 915.82L109.16 916.28L105.78 916.28M113.68 914.43L113.68 919.05L114.06 920.44L114.81 920.90L115.94 920.90L116.70 920.44L117.83 919.05M117.83 914.43L117.83 920.90M120.84 911.20L120.84 920.90M120.84 915.82L121.59 914.90L122.35 914.43L123.48 914.43L124.23 914.90L124.98 915.82L125.36 917.20L125.36 918.13L124.98 919.51L124.23 920.44L123.48 920.90L122.35 920.90L121.59 920.44L120.84 919.51M128.00 911.20L128.00 920.90M130.63 911.20L131.01 911.66L131.39 911.20L131.01 910.74L130.63 911.20M131.01 914.43L131.01 920.90M138.17 915.82L137.41 914.90L136.66 914.43L135.53 914.43L134.78 914.90L134.02 915.82L133.65 917.20L133.65 918.13L134.02 919.51L134.78 920.44L135.53 920.90L136.66 920.90L137.41 920.44L138.17 919.51M144.95 914.43L144.95 920.90M144.95 915.82L144.19 914.90L143.44 914.43L142.31 914.43L141.56 914.90L140.80 915.82L140.43 917.20L140.43 918.13L140.80 919.51L141.56 920.44L142.31 920.90L143.44 920.90L144.19 920.44L144.95 919.51M148.34 911.20L148.34 919.05L148.71 920.44L149.47 920.90L150.22 920.90M147.21 914.43L149.84 914.43M152.10 911.20L152.48 911.66L152.86 911.20L152.48 910.74L152.10 911.20M152.48 914.43L152.48 920.90M157.00 914.43L156.25 914.90L155.49 915.82L155.12 917.20L155.12 918.13L155.49 919.51L156.25 920.44L157.00 920.90L158.13 920.90L158.88 920.44L159.64 919.51L160.01 918.13L160.01 917.20L159.64 915.82L158.88 914.90L158.13 914.43L157.00 914.43M162.65 914.43L162.65 920.90M162.65 916.28L163.78 914.90L164.53 914.43L165.66 914.43L166.42 914.90L166.79 916.28L166.79 920.90M175.83 911.20L175.83 920.90M178.85 911.20L178.85 920.90M178.85 911.20L182.24 911.20L183.37 911.66L183.74 912.12L184.12 913.05L184.12 914.43L183.74 915.36L183.37 915.82L182.24 916.28L178.85 916.28M192.03 913.51L191.65 912.59L190.90 911.66L190.15 911.20L188.64 911.20L187.89 911.66L187.13 912.59L186.38 913.97L186.00 914.90L186.00 917.20L186.38 918.59L186.76 919.51L187.13 920.44L187.89 920.90L188.64 920.90L190.15 920.90L190.90 920.44L191.65 919.51L192.03 918.59M194.29 916.74L199.56 916.74M207.10 911.20L203.33 920.90M201.82 911.20L207.10 911.20M210.11 911.20L214.25 911.20L211.99 914.90L213.12 914.90L213.88 915.36L214.25 915.82L214.63 917.20L214.63 918.13L214.25 919.51L213.50 920.44L212.37 920.90L211.24 920.90L210.11 920.44L209.73 919.98L209.36 919.05M221.41 911.20L217.64 911.20L217.27 915.36L217.64 914.90L218.77 914.43L219.90 914.43L221.03 914.90L221.79 915.82L222.16 917.20L222.16 918.13L221.79 919.51L221.03 920.44L219.90 920.90L218.77 920.90L217.64 920.44L217.27 919.98L216.89 919.05M225.55 913.05L226.31 912.59L227.44 911.20L227.44 920.90M237.98 911.20L238.36 911.66L238.74 911.20L238.36 910.74L237.98 911.20M238.36 914.43L238.36 920.90M245.14 915.82L244.76 914.90L243.63 914.43L242.50 914.43L241.37 914.90L241.00 915.82L241.37 916.74L242.13 917.20L244.01 917.67L244.76 918.13L245.14 919.05L245.14 919.51L244.76 920.44L243.63 920.90L242.50 920.90L241.37 920.44L241.00 919.51M253.80 914.43L253.80 920.90M253.80 917.20L254.18 915.82L254.93 914.90L255.69 914.43L256.82 914.43M258.32 917.20L262.84 917.20L262.84 916.28L262.47 915.36L262.09 914.90L261.34 914.43L260.21 914.43L259.45 914.90L258.70 915.82L258.32 917.20L258.32 918.13L258.70 919.51L259.45 920.44L260.21 920.90L261.34 920.90L262.09 920.44L262.84 919.51M269.62 915.82L268.87 914.90L268.12 914.43L266.99 914.43L266.23 914.90L265.48 915.82L265.10 917.20L265.10 918.13L265.48 919.51L266.23 920.44L266.99 920.90L268.12 920.90L268.87 920.44L269.62 919.51M273.77 914.43L273.01 914.90L272.26 915.82L271.88 917.20L271.88 918.13L272.26 919.51L273.01 920.44L273.77 920.90L274.90 920.90L275.65 920.44L276.40 919.51L276.78 918.13L276.78 917.20L276.40 915.82L275.65 914.90L274.90 914.43L273.77 914.43M279.42 914.43L279.42 920.90M279.42 916.28L280.55 914.90L281.30 914.43L282.43 914.43L283.18 914.90L283.56 916.28L283.56 920.90M283.56 916.28L284.69 914.90L285.44 914.43L286.57 914.43L287.33 914.90L287.70 916.28L287.70 920.90M290.72 914.43L290.72 920.90M290.72 916.28L291.85 914.90L292.60 914.43L293.73 914.43L294.48 914.90L294.86 916.28L294.86 920.90M294.86 916.28L295.99 914.90L296.74 914.43L297.87 914.43L298.63 914.90L299.00 916.28L299.00 920.90M301.64 917.20L306.16 917.20L306.16 916.28L305.78 915.36L305.41 914.90L304.65 914.43L303.52 914.43L302.77 914.90L302.02 915.82L301.64 917.20L301.64 918.13L302.02 919.51L302.77 920.44L303.52 920.90L304.65 920.90L305.41 920.44L306.16 919.51M308.80 914.43L308.80 920.90M308.80 916.28L309.93 914.90L310.68 914.43L311.81 914.43L312.56 914.90L312.94 916.28L312.94 920.90M320.10 911.20L320.10 920.90M320.10 915.82L319.34 914.90L318.59 914.43L317.46 914.43L316.71 914.90L315.95 915.82L315.58 917.20L315.58 918.13L315.95 919.51L316.71 920.44L317.46 920.90L318.59 920.90L319.34 920.44L320.10 919.51M322.73 917.20L327.25 917.20L327.25 916.28L326.88 915.36L326.50 914.90L325.75 914.43L324.62 914.43L323.86 914.90L323.11 915.82L322.73 917.20L322.73 918.13L323.11 919.51L323.86 920.44L324.62 920.90L325.75 920.90L326.50 920.44L327.25 919.51M334.03 911.20L334.03 920.90M334.03 915.82L333.28 914.90L332.53 914.43L331.40 914.43L330.64 914.90L329.89 915.82L329.51 917.20L329.51 918.13L329.89 919.51L330.64 920.44L331.40 920.90L332.53 920.90L333.28 920.44L334.03 919.51M345.33 911.20L344.58 911.20L343.83 911.66L343.45 913.05L343.45 920.90M342.32 914.43L344.96 914.43M349.10 914.43L348.35 914.90L347.59 915.82L347.22 917.20L347.22 918.13L347.59 919.51L348.35 920.44L349.10 920.90L350.23 920.90L350.98 920.44L351.74 919.51L352.11 918.13L352.11 917.20L351.74 915.82L350.98 914.90L350.23 914.43L349.10 914.43M354.75 914.43L354.75 920.90M354.75 917.20L355.13 915.82L355.88 914.90L356.63 914.43L357.76 914.43M369.82 914.43L369.82 920.90M369.82 915.82L369.06 914.90L368.31 914.43L367.18 914.43L366.43 914.90L365.67 915.82L365.30 917.20L365.30 918.13L365.67 919.51L366.43 920.44L367.18 920.90L368.31 920.90L369.06 920.44L369.82 919.51M372.83 911.20L372.83 920.90M376.22 911.20L376.22 919.05L376.60 920.44L377.35 920.90L378.10 920.90M375.09 914.43L377.73 914.43M379.99 917.20L384.51 917.20L384.51 916.28L384.13 915.36L383.75 914.90L383.00 914.43L381.87 914.43L381.12 914.90L380.36 915.82L379.99 917.20L379.99 918.13L380.36 919.51L381.12 920.44L381.87 920.90L383.00 920.90L383.75 920.44L384.51 919.51M387.14 914.43L387.14 920.90M387.14 917.20L387.52 915.82L388.27 914.90L389.03 914.43L390.16 914.43M392.04 914.43L392.04 920.90M392.04 916.28L393.17 914.90L393.92 914.43L395.05 914.43L395.81 914.90L396.18 916.28L396.18 920.90M403.34 914.43L403.34 920.90M403.34 915.82L402.59 914.90L401.83 914.43L400.70 914.43L399.95 914.90L399.20 915.82L398.82 917.20L398.82 918.13L399.20 919.51L399.95 920.44L400.70 920.90L401.83 920.90L402.59 920.44L403.34 919.51M406.73 911.20L406.73 919.05L407.11 920.44L407.86 920.90L408.61 920.90M405.60 914.43L408.24 914.43M410.50 917.20L415.02 917.20L415.02 916.28L414.64 915.36L414.26 914.90L413.51 914.43L412.38 914.43L411.63 914.90L410.87 915.82L410.50 917.20L410.50 918.13L410.87 919.51L411.63 920.44L412.38 920.90L413.51 920.90L414.26 920.44L415.02 919.51M427.82 911.20L427.82 920.90M427.82 915.82L427.07 914.90L426.32 914.43L425.19 914.43L424.43 914.90L423.68 915.82L423.30 917.20L423.30 918.13L423.68 919.51L424.43 920.44L425.19 920.90L426.32 920.90L427.07 920.44L427.82 919.51M430.46 917.20L434.98 917.20L434.98 916.28L434.60 915.36L434.23 914.90L433.47 914.43L432.34 914.43L431.59 914.90L430.84 915.82L430.46 917.20L430.46 918.13L430.84 919.51L431.59 920.44L432.34 920.90L433.47 920.90L434.23 920.44L434.98 919.51M441.38 915.82L441.01 914.90L439.88 914.43L438.75 914.43L437.62 914.90L437.24 915.82L437.62 916.74L438.37 917.20L440.25 917.67L441.01 918.13L441.38 919.05L441.38 919.51L441.01 920.44L439.88 920.90L438.75 920.90L437.62 920.44L437.24 919.51M443.64 911.20L444.02 911.66L444.40 911.20L444.02 910.74L443.64 911.20M444.02 914.43L444.02 920.90M451.18 914.43L451.18 921.82L450.80 923.21L450.42 923.67L449.67 924.13L448.54 924.13L447.79 923.67M451.18 915.82L450.42 914.90L449.67 914.43L448.54 914.43L447.79 914.90L447.03 915.82L446.66 917.20L446.66 918.13L447.03 919.51L447.79 920.44L448.54 920.90L449.67 920.90L450.42 920.44L451.18 919.51M454.19 914.43L454.19 920.90M454.19 916.28L455.32 914.90L456.07 914.43L457.20 914.43L457.96 914.90L458.33 916.28L458.33 920.90M465.11 915.82L464.74 914.90L463.61 914.43L462.48 914.43L461.35 914.90L460.97 915.82L461.35 916.74L462.10 917.20L463.98 917.67L464.74 918.13L465.11 919.05L465.11 919.51L464.74 920.44L463.61 920.90L462.48 920.90L461.35 920.44L460.97 919.51M467.75 919.98L467.37 920.44L467.75 920.90L468.12 920.44L467.75 919.98" fill="none" stroke="#1e1e1e" stroke-width="1.15" stroke-linecap="round" stroke-linejoin="round"/>
<path d="M105.78 930.40L105.78 940.10M105.78 940.10L110.32 940.10M116.38 933.63L116.38 940.10M116.38 935.02L115.63 934.10L114.87 933.63L113.73 933.63L112.97 934.10L112.22 935.02L111.84 936.40L111.84 937.33L112.22 938.71L112.97 939.64L113.73 940.10L114.87 940.10L115.63 939.64L116.38 938.71M123.20 935.02L122.82 934.10L121.69 933.63L120.55 933.63L119.41 934.10L119.04 935.02L119.41 935.94L120.17 936.40L122.07 936.87L122.82 937.33L123.20 938.25L123.20 938.71L122.82 939.64L121.69 940.10L120.55 940.10L119.41 939.64L119.04 938.71M125.48 936.40L130.02 936.40L130.02 935.48L129.64 934.56L129.27 934.10L128.51 933.63L127.37 933.63L126.61 934.10L125.86 935.02L125.48 936.40L125.48 937.33L125.86 938.71L126.61 939.64L127.37 940.10L128.51 940.10L129.27 939.64L130.02 938.71M132.68 933.63L132.68 940.10M132.68 936.40L133.05 935.02L133.81 934.10L134.57 933.63L135.71 933.63M147.83 935.02L147.07 934.10L146.32 933.63L145.18 933.63L144.42 934.10L143.66 935.02L143.28 936.40L143.28 937.33L143.66 938.71L144.42 939.64L145.18 940.10L146.32 940.10L147.07 939.64L147.83 938.71M150.48 933.63L150.48 938.25L150.86 939.64L151.62 940.10L152.76 940.10L153.51 939.64L154.65 938.25M154.65 933.63L154.65 940.10M158.06 930.40L158.06 938.25L158.44 939.64L159.20 940.10L159.95 940.10M156.92 933.63L159.58 933.63M162.61 930.40L162.61 938.25L162.99 939.64L163.74 940.10L164.50 940.10M161.47 933.63L164.12 933.63M166.40 930.40L166.77 930.86L167.15 930.40L166.77 929.94L166.40 930.40M166.77 933.63L166.77 940.10M169.81 933.63L169.81 940.10M169.81 935.48L170.94 934.10L171.70 933.63L172.84 933.63L173.59 934.10L173.97 935.48L173.97 940.10M181.17 933.63L181.17 941.02L180.79 942.41L180.41 942.87L179.66 943.33L178.52 943.33L177.76 942.87M181.17 935.02L180.41 934.10L179.66 933.63L178.52 933.63L177.76 934.10L177.00 935.02L176.63 936.40L176.63 937.33L177.00 938.71L177.76 939.64L178.52 940.10L179.66 940.10L180.41 939.64L181.17 938.71M194.43 933.63L194.43 940.10M194.43 935.02L193.67 934.10L192.92 933.63L191.78 933.63L191.02 934.10L190.26 935.02L189.89 936.40L189.89 937.33L190.26 938.71L191.02 939.64L191.78 940.10L192.92 940.10L193.67 939.64L194.43 938.71M197.46 933.63L197.46 943.33M197.46 935.02L198.22 934.10L198.98 933.63L200.12 933.63L200.87 934.10L201.63 935.02L202.01 936.40L202.01 937.33L201.63 938.71L200.87 939.64L200.12 940.10L198.98 940.10L198.22 939.64L197.46 938.71M204.28 936.40L208.83 936.40L208.83 935.48L208.45 934.56L208.07 934.10L207.31 933.63L206.18 933.63L205.42 934.10L204.66 935.02L204.28 936.40L204.28 937.33L204.66 938.71L205.42 939.64L206.18 940.10L207.31 940.10L208.07 939.64L208.83 938.71M211.48 933.63L211.48 940.10M211.48 936.40L211.86 935.02L212.62 934.10L213.38 933.63L214.51 933.63M216.79 930.40L216.79 938.25L217.17 939.64L217.92 940.10L218.68 940.10M215.65 933.63L218.30 933.63M220.95 933.63L220.95 938.25L221.33 939.64L222.09 940.10L223.23 940.10L223.99 939.64L225.12 938.25M225.12 933.63L225.12 940.10M228.15 933.63L228.15 940.10M228.15 936.40L228.53 935.02L229.29 934.10L230.05 933.63L231.18 933.63M232.70 936.40L237.25 936.40L237.25 935.48L236.87 934.56L236.49 934.10L235.73 933.63L234.59 933.63L233.84 934.10L233.08 935.02L232.70 936.40L232.70 937.33L233.08 938.71L233.84 939.64L234.59 940.10L235.73 940.10L236.49 939.64L237.25 938.71M243.69 935.02L243.31 934.10L242.17 933.63L241.03 933.63L239.90 934.10L239.52 935.02L239.90 935.94L240.66 936.40L242.55 936.87L243.31 937.33L243.69 938.25L243.69 938.71L243.31 939.64L242.17 940.10L241.03 940.10L239.90 939.64L239.52 938.71M252.02 933.63L253.54 940.10M255.05 933.63L253.54 940.10M255.05 933.63L256.57 940.10M258.08 933.63L256.57 940.10M260.36 930.40L260.74 930.86L261.12 930.40L260.74 929.94L260.36 930.40M260.74 933.63L260.74 940.10M264.15 930.40L264.15 938.25L264.53 939.64L265.28 940.10L266.04 940.10M263.01 933.63L265.66 933.63M268.31 930.40L268.31 940.10M268.31 935.48L269.45 934.10L270.21 933.63L271.35 933.63L272.10 934.10L272.48 935.48L272.48 940.10M281.95 930.40L281.95 938.25L282.33 939.64L283.09 940.10L283.85 940.10M280.82 933.63L283.47 933.63M286.12 933.63L286.12 940.10M286.12 936.40L286.50 935.02L287.26 934.10L288.02 933.63L289.15 933.63M295.21 933.63L295.21 940.10M295.21 935.02L294.46 934.10L293.70 933.63L292.56 933.63L291.80 934.10L291.05 935.02L290.67 936.40L290.67 937.33L291.05 938.71L291.80 939.64L292.56 940.10L293.70 940.10L294.46 939.64L295.21 938.71M298.25 933.63L298.25 943.33M298.25 935.02L299.00 934.10L299.76 933.63L300.90 933.63L301.66 934.10L302.41 935.02L302.79 936.40L302.79 937.33L302.41 938.71L301.66 939.64L300.90 940.10L299.76 940.10L299.00 939.64L298.25 938.71M305.07 936.40L309.61 936.40L309.61 935.48L309.23 934.56L308.85 934.10L308.10 933.63L306.96 933.63L306.20 934.10L305.44 935.02L305.07 936.40L305.07 937.33L305.44 938.71L306.20 939.64L306.96 940.10L308.10 940.10L308.85 939.64L309.61 938.71M316.05 933.63L311.89 940.10M311.89 933.63L316.05 933.63M311.89 940.10L316.05 940.10M320.22 933.63L319.46 934.10L318.70 935.02L318.33 936.40L318.33 937.33L318.70 938.71L319.46 939.64L320.22 940.10L321.36 940.10L322.11 939.64L322.87 938.71L323.25 937.33L323.25 936.40L322.87 935.02L322.11 934.10L321.36 933.63L320.22 933.63M325.52 930.40L325.90 930.86L326.28 930.40L325.90 929.94L325.52 930.40M325.90 933.63L325.90 940.10M333.10 930.40L333.10 940.10M333.10 935.02L332.34 934.10L331.59 933.63L330.45 933.63L329.69 934.10L328.93 935.02L328.56 936.40L328.56 937.33L328.93 938.71L329.69 939.64L330.45 940.10L331.59 940.10L332.34 939.64L333.10 938.71M340.30 933.63L340.30 940.10M340.30 935.02L339.54 934.10L338.79 933.63L337.65 933.63L336.89 934.10L336.13 935.02L335.75 936.40L335.75 937.33L336.13 938.71L336.89 939.64L337.65 940.10L338.79 940.10L339.54 939.64L340.30 938.71M343.33 930.40L343.33 940.10M352.05 933.63L353.56 940.10M355.08 933.63L353.56 940.10M355.08 933.63L356.59 940.10M358.11 933.63L356.59 940.10M364.93 933.63L364.93 940.10M364.93 935.02L364.17 934.10L363.41 933.63L362.28 933.63L361.52 934.10L360.76 935.02L360.38 936.40L360.38 937.33L360.76 938.71L361.52 939.64L362.28 940.10L363.41 940.10L364.17 939.64L364.93 938.71M367.96 930.40L367.96 940.10M370.99 930.40L370.99 940.10M377.81 935.02L377.43 934.10L376.29 933.63L375.16 933.63L374.02 934.10L373.64 935.02L374.02 935.94L374.78 936.40L376.67 936.87L377.43 937.33L377.81 938.25L377.81 938.71L377.43 939.64L376.29 940.10L375.16 940.10L374.02 939.64L373.64 938.71M390.69 933.63L390.69 940.10M390.69 935.02L389.93 934.10L389.18 933.63L388.04 933.63L387.28 934.10L386.52 935.02L386.15 936.40L386.15 937.33L386.52 938.71L387.28 939.64L388.04 940.10L389.18 940.10L389.93 939.64L390.69 938.71M393.72 933.63L393.72 940.10M393.72 935.48L394.86 934.10L395.62 933.63L396.75 933.63L397.51 934.10L397.89 935.48L397.89 940.10M405.09 930.40L405.09 940.10M405.09 935.02L404.33 934.10L403.57 933.63L402.44 933.63L401.68 934.10L400.92 935.02L400.54 936.40L400.54 937.33L400.92 938.71L401.68 939.64L402.44 940.10L403.57 940.10L404.33 939.64L405.09 938.71M418.35 933.63L418.35 940.10M418.35 935.02L417.59 934.10L416.83 933.63L415.70 933.63L414.94 934.10L414.18 935.02L413.80 936.40L413.80 937.33L414.18 938.71L414.94 939.64L415.70 940.10L416.83 940.10L417.59 939.64L418.35 938.71M421.38 930.40L421.38 940.10M428.20 935.02L427.82 934.10L426.69 933.63L425.55 933.63L424.41 934.10L424.03 935.02L424.41 935.94L425.17 936.40L427.06 936.87L427.82 937.33L428.20 938.25L428.20 938.71L427.82 939.64L426.69 940.10L425.55 940.10L424.41 939.64L424.03 938.71M432.37 933.63L431.61 934.10L430.85 935.02L430.47 936.40L430.47 937.33L430.85 938.71L431.61 939.64L432.37 940.10L433.51 940.10L434.26 939.64L435.02 938.71L435.40 937.33L435.40 936.40L435.02 935.02L434.26 934.10L433.51 933.63L432.37 933.63M444.11 933.63L444.11 940.10M444.11 936.40L444.49 935.02L445.25 934.10L446.01 933.63L447.14 933.63M450.55 933.63L449.80 934.10L449.04 935.02L448.66 936.40L448.66 937.33L449.04 938.71L449.80 939.64L450.55 940.10L451.69 940.10L452.45 939.64L453.21 938.71L453.59 937.33L453.59 936.40L453.21 935.02L452.45 934.10L451.69 933.63L450.55 933.63M456.24 933.63L456.24 938.25L456.62 939.64L457.37 940.10L458.51 940.10L459.27 939.64L460.41 938.25M460.41 933.63L460.41 940.10M463.44 933.63L463.44 940.10M463.44 935.48L464.57 934.10L465.33 933.63L466.47 933.63L467.23 934.10L467.60 935.48L467.60 940.10M474.80 930.40L474.80 940.10M474.80 935.02L474.05 934.10L473.29 933.63L472.15 933.63L471.39 934.10L470.64 935.02L470.26 936.40L470.26 937.33L470.64 938.71L471.39 939.64L472.15 940.10L473.29 940.10L474.05 939.64L474.80 938.71M477.46 930.40L477.83 930.86L478.21 930.40L477.83 929.94L477.46 930.40M477.83 933.63L477.83 940.10M480.87 933.63L480.87 940.10M480.87 935.48L482.00 934.10L482.76 933.63L483.90 933.63L484.65 934.10L485.03 935.48L485.03 940.10M492.23 933.63L492.23 941.02L491.85 942.41L491.47 942.87L490.72 943.33L489.58 943.33L488.82 942.87M492.23 935.02L491.47 934.10L490.72 933.63L489.58 933.63L488.82 934.10L488.06 935.02L487.68 936.40L487.68 937.33L488.06 938.71L488.82 939.64L489.58 940.10L490.72 940.10L491.47 939.64L492.23 938.71M505.49 935.02L504.73 934.10L503.98 933.63L502.84 933.63L502.08 934.10L501.32 935.02L500.95 936.40L500.95 937.33L501.32 938.71L502.08 939.64L502.84 940.10L503.98 940.10L504.73 939.64L505.49 938.71M509.66 933.63L508.90 934.10L508.14 935.02L507.77 936.40L507.77 937.33L508.14 938.71L508.90 939.64L509.66 940.10L510.80 940.10L511.55 939.64L512.31 938.71L512.69 937.33L512.69 936.40L512.31 935.02L511.55 934.10L510.80 933.63L509.66 933.63M515.34 933.63L515.34 940.10M515.34 936.40L515.72 935.02L516.48 934.10L517.24 933.63L518.37 933.63M520.27 933.63L520.27 940.10M520.27 935.48L521.41 934.10L522.16 933.63L523.30 933.63L524.06 934.10L524.44 935.48L524.44 940.10M527.09 936.40L531.63 936.40L531.63 935.48L531.26 934.56L530.88 934.10L530.12 933.63L528.98 933.63L528.22 934.10L527.47 935.02L527.09 936.40L527.09 937.33L527.47 938.71L528.22 939.64L528.98 940.10L530.12 940.10L530.88 939.64L531.63 938.71M534.29 933.63L534.29 940.10M534.29 936.40L534.67 935.02L535.42 934.10L536.18 933.63L537.32 933.63M543.00 935.02L542.62 934.10L541.49 933.63L540.35 933.63L539.21 934.10L538.83 935.02L539.21 935.94L539.97 936.40L541.86 936.87L542.62 937.33L543.00 938.25L543.00 938.71L542.62 939.64L541.49 940.10L540.35 940.10L539.21 939.64L538.83 938.71M551.34 933.63L552.85 940.10M554.37 933.63L552.85 940.10M554.37 933.63L555.88 940.10M557.40 933.63L555.88 940.10M559.67 930.40L560.05 930.86L560.43 930.40L560.05 929.94L559.67 930.40M560.05 933.63L560.05 940.10M563.08 930.40L563.08 940.10M566.11 930.40L566.11 940.10M576.72 933.63L575.96 934.10L575.21 935.02L574.83 936.40L574.83 937.33L575.21 938.71L575.96 939.64L576.72 940.10L577.86 940.10L578.62 939.64L579.37 938.71L579.75 937.33L579.75 936.40L579.37 935.02L578.62 934.10L577.86 933.63L576.72 933.63M584.68 930.40L583.92 930.40L583.16 930.86L582.78 932.25L582.78 940.10M581.65 933.63L584.30 933.63M589.22 930.40L588.47 930.40L587.71 930.86L587.33 932.25L587.33 940.10M586.19 933.63L588.85 933.63M591.12 936.40L595.67 936.40L595.67 935.48L595.29 934.56L594.91 934.10L594.15 933.63L593.01 933.63L592.26 934.10L591.50 935.02L591.12 936.40L591.12 937.33L591.50 938.71L592.26 939.64L593.01 940.10L594.15 940.10L594.91 939.64L595.67 938.71M598.32 933.63L598.32 940.10M598.32 936.40L598.70 935.02L599.45 934.10L600.21 933.63L601.35 933.63M609.30 930.40L609.30 940.10M609.30 935.02L610.06 934.10L610.82 933.63L611.96 933.63L612.71 934.10L613.47 935.02L613.85 936.40L613.85 937.33L613.47 938.71L612.71 939.64L611.96 940.10L610.82 940.10L610.06 939.64L609.30 938.71M616.12 936.40L620.67 936.40L620.67 935.48L620.29 934.56L619.91 934.10L619.16 933.63L618.02 933.63L617.26 934.10L616.50 935.02L616.12 936.40L616.12 937.33L616.50 938.71L617.26 939.64L618.02 940.10L619.16 940.10L619.91 939.64L620.67 938.71M623.70 930.40L623.70 938.25L624.08 939.64L624.84 940.10L625.60 940.10M622.57 933.63L625.22 933.63M628.25 930.40L628.25 938.25L628.63 939.64L629.39 940.10L630.14 940.10M627.11 933.63L629.76 933.63M632.04 936.40L636.58 936.40L636.58 935.48L636.21 934.56L635.83 934.10L635.07 933.63L633.93 933.63L633.17 934.10L632.42 935.02L632.04 936.40L632.04 937.33L632.42 938.71L633.17 939.64L633.93 940.10L635.07 940.10L635.83 939.64L636.58 938.71M639.24 933.63L639.24 940.10M639.24 936.40L639.62 935.02L640.37 934.10L641.13 933.63L642.27 933.63M650.22 933.63L650.22 943.33M650.22 935.02L650.98 934.10L651.74 933.63L652.88 933.63L653.63 934.10L654.39 935.02L654.77 936.40L654.77 937.33L654.39 938.71L653.63 939.64L652.88 940.10L651.74 940.10L650.98 939.64L650.22 938.71M661.59 933.63L661.59 940.10M661.59 935.02L660.83 934.10L660.07 933.63L658.94 933.63L658.18 934.10L657.42 935.02L657.04 936.40L657.04 937.33L657.42 938.71L658.18 939.64L658.94 940.10L660.07 940.10L660.83 939.64L661.59 938.71M668.41 935.02L668.03 934.10L666.89 933.63L665.76 933.63L664.62 934.10L664.24 935.02L664.62 935.94L665.38 936.40L667.27 936.87L668.03 937.33L668.41 938.25L668.41 938.71L668.03 939.64L666.89 940.10L665.76 940.10L664.62 939.64L664.24 938.71M671.44 930.40L671.44 938.25L671.82 939.64L672.58 940.10L673.34 940.10M670.30 933.63L672.96 933.63M675.23 936.40L679.78 936.40L679.78 935.48L679.40 934.56L679.02 934.10L678.26 933.63L677.12 933.63L676.37 934.10L675.61 935.02L675.23 936.40L675.23 937.33L675.61 938.71L676.37 939.64L677.12 940.10L678.26 940.10L679.02 939.64L679.78 938.71M688.49 933.63L688.49 940.10M688.49 936.40L688.87 935.02L689.63 934.10L690.38 933.63L691.52 933.63M693.04 936.40L697.58 936.40L697.58 935.48L697.20 934.56L696.83 934.10L696.07 933.63L694.93 933.63L694.17 934.10L693.42 935.02L693.04 936.40L693.04 937.33L693.42 938.71L694.17 939.64L694.93 940.10L696.07 940.10L696.83 939.64L697.58 938.71M700.24 930.40L700.24 940.10M702.89 936.40L707.43 936.40L707.43 935.48L707.06 934.56L706.68 934.10L705.92 933.63L704.78 933.63L704.02 934.10L703.27 935.02L702.89 936.40L702.89 937.33L703.27 938.71L704.02 939.64L704.78 940.10L705.92 940.10L706.68 939.64L707.43 938.71M714.25 933.63L714.25 940.10M714.25 935.02L713.50 934.10L712.74 933.63L711.60 933.63L710.84 934.10L710.09 935.02L709.71 936.40L709.71 937.33L710.09 938.71L710.84 939.64L711.60 940.10L712.74 940.10L713.50 939.64L714.25 938.71M721.07 935.02L720.70 934.10L719.56 933.63L718.42 933.63L717.29 934.10L716.91 935.02L717.29 935.94L718.04 936.40L719.94 936.87L720.70 937.33L721.07 938.25L721.07 938.71L720.70 939.64L719.56 940.10L718.42 940.10L717.29 939.64L716.91 938.71M723.35 936.40L727.89 936.40L727.89 935.48L727.52 934.56L727.14 934.10L726.38 933.63L725.24 933.63L724.48 934.10L723.73 935.02L723.35 936.40L723.35 937.33L723.73 938.71L724.48 939.64L725.24 940.10L726.38 940.10L727.14 939.64L727.89 938.71M730.55 939.18L730.17 939.64L730.55 940.10L730.92 939.64L730.55 939.18" fill="none" stroke="#1e1e1e" stroke-width="1.15" stroke-linecap="round" stroke-linejoin="round"/>
<path d="M83.10 878.20L80.08 887.90M83.10 878.20L86.13 887.90M81.21 884.67L85.00 884.67M88.02 886.98L87.64 887.44L88.02 887.90L88.40 887.44L88.02 886.98" fill="none" stroke="#1e1e1e" stroke-width="1.15" stroke-linecap="round" stroke-linejoin="round"/>
<path d="M80.08 894.70L80.08 904.40M80.08 894.70L83.48 894.70L84.62 895.16L85.00 895.62L85.37 896.55L85.37 897.47L85.00 898.40L84.62 898.86L83.48 899.32M80.08 899.32L83.48 899.32L84.62 899.78L85.00 900.24L85.37 901.17L85.37 902.55L85.00 903.48L84.62 903.94L83.48 904.40L80.08 904.40M88.02 903.48L87.64 903.94L88.02 904.40L88.40 903.94L88.02 903.48" fill="none" stroke="#1e1e1e" stroke-width="1.15" stroke-linecap="round" stroke-linejoin="round"/>
<path d="M86.13 913.51L85.75 912.59L85.00 911.66L84.24 911.20L82.72 911.20L81.97 911.66L81.21 912.59L80.45 913.97L80.08 914.90L80.08 917.20L80.45 918.59L80.83 919.51L81.21 920.44L81.97 920.90L82.72 920.90L84.24 920.90L85.00 920.44L85.75 919.51L86.13 918.59M88.78 919.98L88.40 920.44L88.78 920.90L89.16 920.44L88.78 919.98" fill="none" stroke="#1e1e1e" stroke-width="1.15" stroke-linecap="round" stroke-linejoin="round"/>
<path d="M80.08 930.40L80.08 940.10M80.08 930.40L82.72 930.40L83.86 930.86L84.62 931.79L85.00 932.71L85.37 934.10L85.37 936.40L85.00 937.79L84.62 938.71L83.86 939.64L82.72 940.10L80.08 940.10M88.02 939.18L87.64 939.64L88.02 940.10L88.40 939.64L88.02 939.18" fill="none" stroke="#1e1e1e" stroke-width="1.15" stroke-linecap="round" stroke-linejoin="round"/>
<path d="M755.44 932.71L755.06 931.79L754.30 930.86L753.54 930.40L752.03 930.40L751.27 930.86L750.51 931.79L749.75 933.17L749.38 934.10L749.38 936.40L749.75 937.79L750.13 938.71L750.51 939.64L751.27 940.10L752.03 940.10L753.54 940.10L754.30 939.64L755.06 938.71L755.44 937.79M758.09 933.63L758.09 938.25L758.47 939.64L759.23 940.10L760.36 940.10L761.12 939.64L762.26 938.25M762.26 933.63L762.26 940.10M769.08 935.02L768.70 934.10L767.56 933.63L766.42 933.63L765.29 934.10L764.91 935.02L765.29 935.94L766.05 936.40L767.94 936.87L768.70 937.33L769.08 938.25L769.08 938.71L768.70 939.64L767.56 940.10L766.42 940.10L765.29 939.64L764.91 938.71M772.11 930.40L772.11 938.25L772.49 939.64L773.24 940.10L774.00 940.10M770.97 933.63L773.62 933.63M777.79 933.63L777.03 934.10L776.28 935.02L775.90 936.40L775.90 937.33L776.28 938.71L777.03 939.64L777.79 940.10L778.93 940.10L779.69 939.64L780.44 938.71L780.82 937.33L780.82 936.40L780.44 935.02L779.69 934.10L778.93 933.63L777.79 933.63M783.47 933.63L783.47 940.10M783.47 935.48L784.61 934.10L785.37 933.63L786.51 933.63L787.26 934.10L787.64 935.48L787.64 940.10M787.64 935.48L788.78 934.10L789.54 933.63L790.67 933.63L791.43 934.10L791.81 935.48L791.81 940.10M794.46 936.40L799.01 936.40L799.01 935.48L798.63 934.56L798.25 934.10L797.49 933.63L796.36 933.63L795.60 934.10L794.84 935.02L794.46 936.40L794.46 937.33L794.84 938.71L795.60 939.64L796.36 940.10L797.49 940.10L798.25 939.64L799.01 938.71M801.66 933.63L801.66 940.10M801.66 936.40L802.04 935.02L802.80 934.10L803.55 933.63L804.69 933.63M810.37 935.02L810.00 934.10L808.86 933.63L807.72 933.63L806.59 934.10L806.21 935.02L806.59 935.94L807.34 936.40L809.24 936.87L810.00 937.33L810.37 938.25L810.37 938.71L810.00 939.64L808.86 940.10L807.72 940.10L806.59 939.64L806.21 938.71M822.88 935.02L822.50 934.10L821.36 933.63L820.23 933.63L819.09 934.10L818.71 935.02L819.09 935.94L819.85 936.40L821.74 936.87L822.50 937.33L822.88 938.25L822.88 938.71L822.50 939.64L821.36 940.10L820.23 940.10L819.09 939.64L818.71 938.71M825.53 930.40L825.53 940.10M825.53 935.48L826.67 934.10L827.42 933.63L828.56 933.63L829.32 934.10L829.70 935.48L829.70 940.10M834.24 933.63L833.49 934.10L832.73 935.02L832.35 936.40L832.35 937.33L832.73 938.71L833.49 939.64L834.24 940.10L835.38 940.10L836.14 939.64L836.90 938.71L837.27 937.33L837.27 936.40L836.90 935.02L836.14 934.10L835.38 933.63L834.24 933.63M839.93 933.63L839.93 938.25L840.31 939.64L841.06 940.10L842.20 940.10L842.96 939.64L844.09 938.25M844.09 933.63L844.09 940.10M847.13 930.40L847.13 940.10M854.32 930.40L854.32 940.10M854.32 935.02L853.57 934.10L852.81 933.63L851.67 933.63L850.91 934.10L850.16 935.02L849.78 936.40L849.78 937.33L850.16 938.71L850.91 939.64L851.67 940.10L852.81 940.10L853.57 939.64L854.32 938.71" fill="none" stroke="#1e1e1e" stroke-width="1.15" stroke-linecap="round" stroke-linejoin="round"/>
</svg>
</body></html>
